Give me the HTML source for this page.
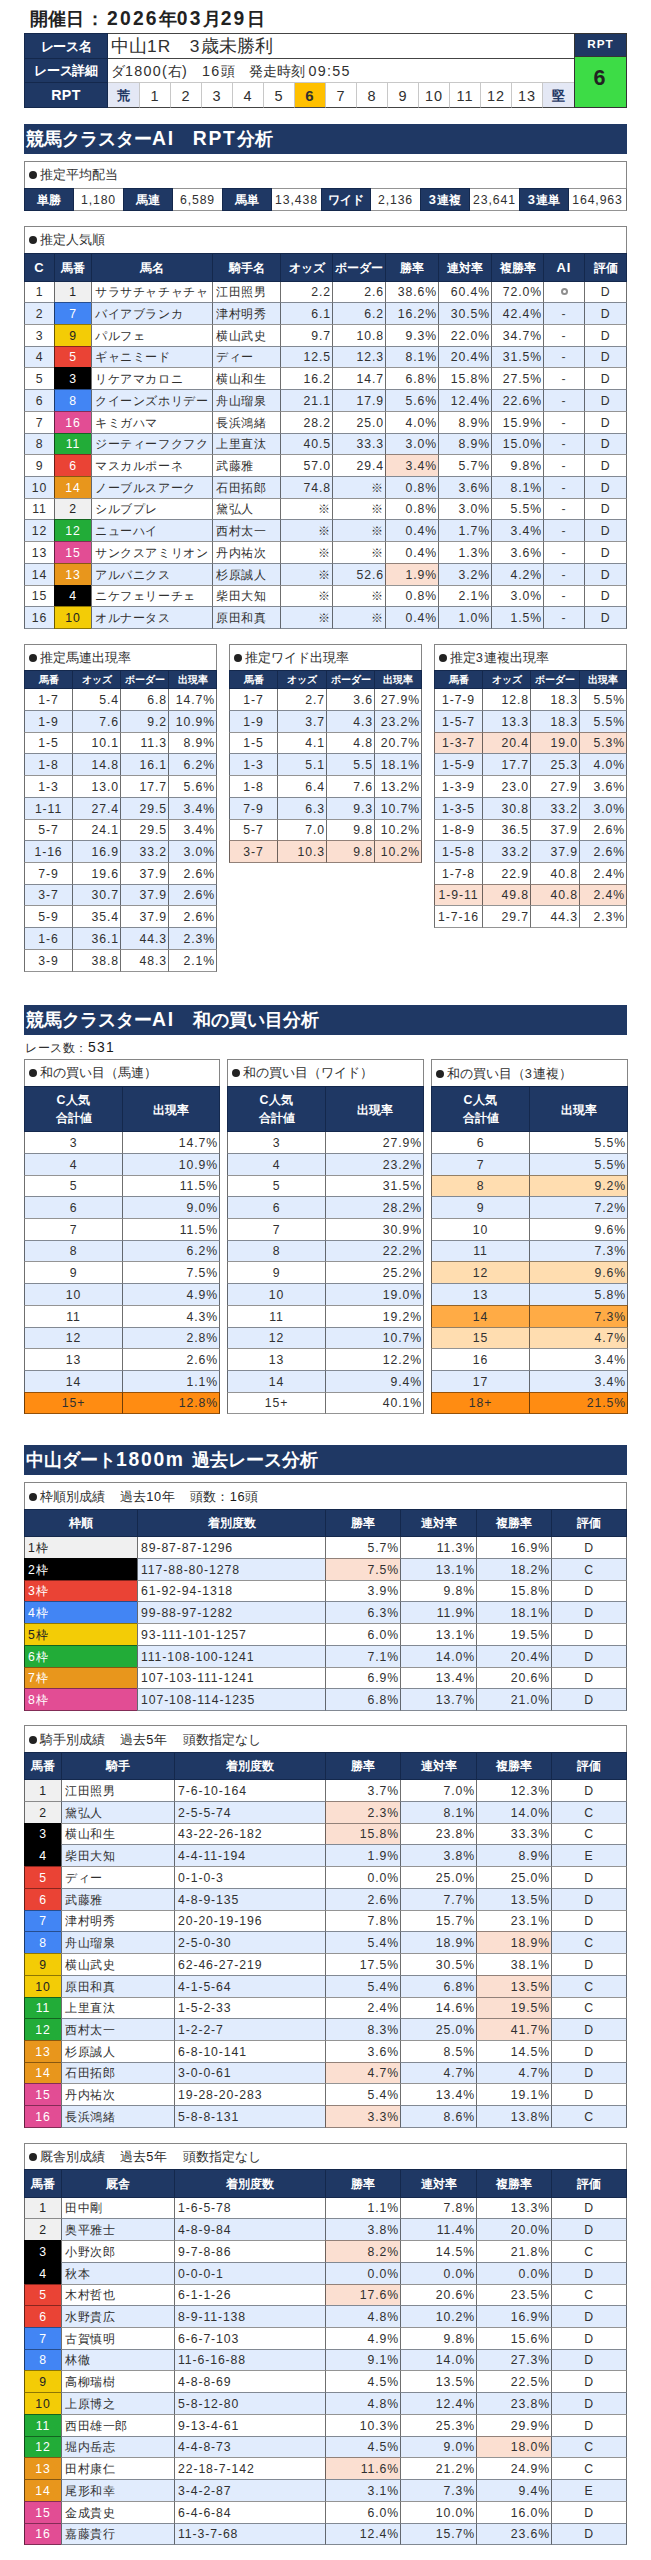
<!DOCTYPE html>
<html lang="ja"><head><meta charset="utf-8"><title>RPT</title><style>
html,body{margin:0;padding:0;background:#fff;}
body{width:651px;height:2560px;position:relative;overflow:hidden;font-family:"Liberation Sans",sans-serif;font-size:12.3px;color:#303030;}
.c{position:absolute;box-sizing:border-box;border:1px solid;border-color:rgba(0,0,0,.42) rgba(0,0,0,.56);white-space:nowrap;overflow:hidden;background:#fff;font-size:12.3px;letter-spacing:.6px;}
.r{position:absolute;white-space:nowrap;overflow:hidden;}
.n{font-size:12.25px;letter-spacing:.9px;}
.m{text-align:center;}
.l{text-align:left;padding-left:3px;}
.rr{text-align:right;padding-right:1px;}
.h{z-index:1;background:#1f3864;color:#fff;font-weight:bold;text-align:center;border-color:#14284c;font-size:12.2px;letter-spacing:0;}
.sm{font-size:10.4px;}
.sh{font-size:12.2px;}
.h1{font-size:11.6px;}
.h2{line-height:18px !important;padding-top:4px;font-size:11.6px;}
.rl{font-size:13.4px;letter-spacing:-.4px;}
.rl .n{letter-spacing:.03em !important;}
.rn{font-size:18px;padding-left:3px;border-color:#444;letter-spacing:0;}
.rd{font-size:13.9px;padding-left:3px;border-color:#444;letter-spacing:0;}
.rp{font-size:15px;border-color:#c8c8c8;border-bottom-color:#444;letter-spacing:0;}
.rn .n,.rp .n{font-size:.965em;letter-spacing:.07em;}
.rd .n{font-size:1.03em;letter-spacing:.09em;}
.rp.b .n{font-size:1em;}
.nv{color:#1f3864;font-weight:bold;font-size:13.4px;}
.b{font-weight:bold;}
.big{font-size:20.3px;font-weight:bold;color:#222;letter-spacing:0;}
.bh{padding-left:2px;font-size:12.7px;letter-spacing:0;border-color:#858585;}
.bh .n{font-size:12.8px;letter-spacing:.7px;}
.bh .dot{margin:0 2.6px 0 2.2px;}
.ai{color:#444;}
.sp{display:inline-block;width:15.5px;}
.ring{display:inline-block;width:3px;height:3px;border:2px solid #8e8e8e;border-radius:50%;vertical-align:middle;position:relative;top:-1px;}
.title{font-size:18.2px;font-weight:bold;color:#222;}
.sec{background:#1f3864;color:#fff;font-weight:bold;font-size:18.2px;padding-left:2px;box-sizing:border-box;}
.rc{font-size:12.3px;letter-spacing:.6px;}
.h .n,.sec .n,b .n,.b .n,.big .n{font-size:1.06em;letter-spacing:.09em;}
.title .n{font-size:1.06em;letter-spacing:.115em;}
b{font-weight:normal;}
b .n{font-size:13.9px;letter-spacing:1.3px;color:#1a1a1a;}
b{letter-spacing:.3px;}
.dot{display:inline-block;width:8px;height:8px;border-radius:50%;background:#222;margin:0 1.8px 0 2.1px;vertical-align:middle;position:relative;top:-1px;}
</style></head><body>
<div class="r title" style="left:30px;top:6px;width:370px;height:25px;line-height:25px;">開催日<i style="font-style:normal;margin:0 3px 0 2px">：</i><span class="n">2026</span>年<span class="n">03</span>月<span class="n">29</span>日</div>
<div class="c h rl" style="left:24px;top:33px;width:84px;height:26px;line-height:25px;">レース名</div>
<div class="c h rl" style="left:24px;top:58px;width:84px;height:25px;line-height:24px;">レース詳細</div>
<div class="c h rl" style="left:24px;top:82px;width:84px;height:26px;line-height:25px;"><span class="n">RPT</span></div>
<div class="c l rn" style="left:107px;top:33px;width:468px;height:26px;line-height:25px;">中山<span class="n">1R</span>　<span class="n">3</span>歳未勝利</div>
<div class="c l rd" style="left:107px;top:58px;width:468px;height:25px;line-height:24px;">ダ<span class="n">1800(</span>右<span class="n">)</span>　<span class="n">16</span>頭　発走時刻 <span class="n">09:55</span></div>
<div class="c m rp nv" style="left:107px;top:82px;width:33px;height:26px;line-height:25px;background:#e4e8f5;">荒</div>
<div class="c m rp" style="left:139px;top:82px;width:32px;height:26px;line-height:25px;"><span class="n">1</span></div>
<div class="c m rp" style="left:170px;top:82px;width:32px;height:26px;line-height:25px;"><span class="n">2</span></div>
<div class="c m rp" style="left:201px;top:82px;width:32px;height:26px;line-height:25px;"><span class="n">3</span></div>
<div class="c m rp" style="left:232px;top:82px;width:32px;height:26px;line-height:25px;"><span class="n">4</span></div>
<div class="c m rp" style="left:263px;top:82px;width:32px;height:26px;line-height:25px;"><span class="n">5</span></div>
<div class="c m rp b" style="left:294px;top:82px;width:32px;height:26px;line-height:25px;background:#ffc000;"><span class="n">6</span></div>
<div class="c m rp" style="left:325px;top:82px;width:32px;height:26px;line-height:25px;"><span class="n">7</span></div>
<div class="c m rp" style="left:356px;top:82px;width:32px;height:26px;line-height:25px;"><span class="n">8</span></div>
<div class="c m rp" style="left:387px;top:82px;width:32px;height:26px;line-height:25px;"><span class="n">9</span></div>
<div class="c m rp" style="left:418px;top:82px;width:32px;height:26px;line-height:25px;"><span class="n">10</span></div>
<div class="c m rp" style="left:449px;top:82px;width:32px;height:26px;line-height:25px;"><span class="n">11</span></div>
<div class="c m rp" style="left:480px;top:82px;width:32px;height:26px;line-height:25px;"><span class="n">12</span></div>
<div class="c m rp" style="left:511px;top:82px;width:32px;height:26px;line-height:25px;"><span class="n">13</span></div>
<div class="c m rp nv" style="left:542px;top:82px;width:33px;height:26px;line-height:25px;background:#e4e8f5;">堅</div>
<div class="c h" style="left:574px;top:33px;width:53px;height:24px;line-height:23px;border-color:#333;font-size:11.1px;line-height:19px;"><span class="n">RPT</span></div>
<div class="c m big" style="left:574px;top:56px;width:53px;height:52px;line-height:51px;background:#3ddc46;border-color:#333;line-height:42px;"><span class="n">6</span></div>
<div class="r sec" style="left:24px;top:124px;width:603px;height:30px;line-height:30px;">競馬クラスター<span class="n">AI</span>　<span class="n">RPT</span>分析</div>
<div class="r sec" style="left:24px;top:1005px;width:603px;height:30px;line-height:30px;">競馬クラスター<span class="n">AI</span>　和の買い目分析</div>
<div class="r sec" style="left:24px;top:1445px;width:603px;height:30px;line-height:30px;">中山ダート<span class="n">1800m </span>過去レース分析</div>
<div class="c bh" style="left:24px;top:161px;width:603px;height:28px;line-height:27px;"><i class="dot"></i>推定平均配当</div>
<div class="c h sh" style="left:24px;top:188px;width:50px;height:23px;line-height:22px;">単勝</div>
<div class="c m" style="left:73px;top:188px;width:51px;height:23px;line-height:22px;"><span class="n">1,180</span></div>
<div class="c h sh" style="left:123px;top:188px;width:50px;height:23px;line-height:22px;">馬連</div>
<div class="c m" style="left:172px;top:188px;width:51px;height:23px;line-height:22px;"><span class="n">6,589</span></div>
<div class="c h sh" style="left:222px;top:188px;width:50px;height:23px;line-height:22px;">馬単</div>
<div class="c m" style="left:271px;top:188px;width:51px;height:23px;line-height:22px;"><span class="n">13,438</span></div>
<div class="c h sh" style="left:321px;top:188px;width:50px;height:23px;line-height:22px;">ワイド</div>
<div class="c m" style="left:370px;top:188px;width:51px;height:23px;line-height:22px;"><span class="n">2,136</span></div>
<div class="c h sh" style="left:420px;top:188px;width:50px;height:23px;line-height:22px;"><span class="n">3</span>連複</div>
<div class="c m" style="left:469px;top:188px;width:51px;height:23px;line-height:22px;"><span class="n">23,641</span></div>
<div class="c h sh" style="left:519px;top:188px;width:50px;height:23px;line-height:22px;"><span class="n">3</span>連単</div>
<div class="c m" style="left:568px;top:188px;width:59px;height:23px;line-height:22px;"><span class="n">164,963</span></div>
<div class="c bh" style="left:24px;top:226px;width:603px;height:28px;line-height:27px;"><i class="dot"></i>推定人気順</div>
<div class="c h" style="left:24px;top:253px;width:31px;height:29px;line-height:28px;"><span class="n">C</span></div>
<div class="c h" style="left:54px;top:253px;width:38px;height:29px;line-height:28px;">馬番</div>
<div class="c h" style="left:91px;top:253px;width:122px;height:29px;line-height:28px;">馬名</div>
<div class="c h" style="left:212px;top:253px;width:69px;height:29px;line-height:28px;">騎手名</div>
<div class="c h" style="left:280px;top:253px;width:53px;height:29px;line-height:28px;">オッズ</div>
<div class="c h" style="left:332px;top:253px;width:54px;height:29px;line-height:28px;">ボーダー</div>
<div class="c h" style="left:385px;top:253px;width:54px;height:29px;line-height:28px;">勝率</div>
<div class="c h" style="left:438px;top:253px;width:54px;height:29px;line-height:28px;">連対率</div>
<div class="c h" style="left:491px;top:253px;width:53px;height:29px;line-height:28px;">複勝率</div>
<div class="c h" style="left:543px;top:253px;width:42px;height:29px;line-height:28px;"><span class="n">AI</span></div>
<div class="c h" style="left:584px;top:253px;width:43px;height:29px;line-height:28px;">評価</div>
<div class="c m" style="left:24px;top:281px;width:31px;height:22px;line-height:21px;background:#fff;"><span class="n">1</span></div>
<div class="c m" style="left:54px;top:281px;width:38px;height:22px;line-height:21px;background:#f0f0f0;color:#222;"><span class="n">1</span></div>
<div class="c l" style="left:91px;top:281px;width:122px;height:22px;line-height:21px;background:#fff;">サラサチャチャチャ</div>
<div class="c l" style="left:212px;top:281px;width:69px;height:22px;line-height:21px;background:#fff;">江田照男</div>
<div class="c rr" style="left:280px;top:281px;width:53px;height:22px;line-height:21px;background:#fff;"><span class="n">2.2</span></div>
<div class="c rr" style="left:332px;top:281px;width:54px;height:22px;line-height:21px;background:#fff;"><span class="n">2.6</span></div>
<div class="c rr" style="left:385px;top:281px;width:54px;height:22px;line-height:21px;background:#fff;"><span class="n">38.6%</span></div>
<div class="c rr" style="left:438px;top:281px;width:54px;height:22px;line-height:21px;background:#fff;"><span class="n">60.4%</span></div>
<div class="c rr" style="left:491px;top:281px;width:53px;height:22px;line-height:21px;background:#fff;"><span class="n">72.0%</span></div>
<div class="c m ai" style="left:543px;top:281px;width:42px;height:22px;line-height:21px;background:#fff;"><i class="ring"></i></div>
<div class="c m" style="left:584px;top:281px;width:43px;height:22px;line-height:21px;background:#fff;"><span class="n">D</span></div>
<div class="c m" style="left:24px;top:302px;width:31px;height:23px;line-height:22px;background:#e1ecfd;"><span class="n">2</span></div>
<div class="c m" style="left:54px;top:302px;width:38px;height:23px;line-height:22px;background:#4285f4;color:#fff;"><span class="n">7</span></div>
<div class="c l" style="left:91px;top:302px;width:122px;height:23px;line-height:22px;background:#e1ecfd;">バイアブランカ</div>
<div class="c l" style="left:212px;top:302px;width:69px;height:23px;line-height:22px;background:#e1ecfd;">津村明秀</div>
<div class="c rr" style="left:280px;top:302px;width:53px;height:23px;line-height:22px;background:#e1ecfd;"><span class="n">6.1</span></div>
<div class="c rr" style="left:332px;top:302px;width:54px;height:23px;line-height:22px;background:#e1ecfd;"><span class="n">6.2</span></div>
<div class="c rr" style="left:385px;top:302px;width:54px;height:23px;line-height:22px;background:#e1ecfd;"><span class="n">16.2%</span></div>
<div class="c rr" style="left:438px;top:302px;width:54px;height:23px;line-height:22px;background:#e1ecfd;"><span class="n">30.5%</span></div>
<div class="c rr" style="left:491px;top:302px;width:53px;height:23px;line-height:22px;background:#e1ecfd;"><span class="n">42.4%</span></div>
<div class="c m ai" style="left:543px;top:302px;width:42px;height:23px;line-height:22px;background:#e1ecfd;"><span class="n">-</span></div>
<div class="c m" style="left:584px;top:302px;width:43px;height:23px;line-height:22px;background:#e1ecfd;"><span class="n">D</span></div>
<div class="c m" style="left:24px;top:324px;width:31px;height:23px;line-height:22px;background:#fff;"><span class="n">3</span></div>
<div class="c m" style="left:54px;top:324px;width:38px;height:23px;line-height:22px;background:#f3cc06;color:#222;"><span class="n">9</span></div>
<div class="c l" style="left:91px;top:324px;width:122px;height:23px;line-height:22px;background:#fff;">パルフェ</div>
<div class="c l" style="left:212px;top:324px;width:69px;height:23px;line-height:22px;background:#fff;">横山武史</div>
<div class="c rr" style="left:280px;top:324px;width:53px;height:23px;line-height:22px;background:#fff;"><span class="n">9.7</span></div>
<div class="c rr" style="left:332px;top:324px;width:54px;height:23px;line-height:22px;background:#fff;"><span class="n">10.8</span></div>
<div class="c rr" style="left:385px;top:324px;width:54px;height:23px;line-height:22px;background:#fff;"><span class="n">9.3%</span></div>
<div class="c rr" style="left:438px;top:324px;width:54px;height:23px;line-height:22px;background:#fff;"><span class="n">22.0%</span></div>
<div class="c rr" style="left:491px;top:324px;width:53px;height:23px;line-height:22px;background:#fff;"><span class="n">34.7%</span></div>
<div class="c m ai" style="left:543px;top:324px;width:42px;height:23px;line-height:22px;background:#fff;"><span class="n">-</span></div>
<div class="c m" style="left:584px;top:324px;width:43px;height:23px;line-height:22px;background:#fff;"><span class="n">D</span></div>
<div class="c m" style="left:24px;top:346px;width:31px;height:22px;line-height:21px;background:#e1ecfd;"><span class="n">4</span></div>
<div class="c m" style="left:54px;top:346px;width:38px;height:22px;line-height:21px;background:#ea4335;color:#fff;"><span class="n">5</span></div>
<div class="c l" style="left:91px;top:346px;width:122px;height:22px;line-height:21px;background:#e1ecfd;">ギャニミード</div>
<div class="c l" style="left:212px;top:346px;width:69px;height:22px;line-height:21px;background:#e1ecfd;">ディー</div>
<div class="c rr" style="left:280px;top:346px;width:53px;height:22px;line-height:21px;background:#e1ecfd;"><span class="n">12.5</span></div>
<div class="c rr" style="left:332px;top:346px;width:54px;height:22px;line-height:21px;background:#e1ecfd;"><span class="n">12.3</span></div>
<div class="c rr" style="left:385px;top:346px;width:54px;height:22px;line-height:21px;background:#e1ecfd;"><span class="n">8.1%</span></div>
<div class="c rr" style="left:438px;top:346px;width:54px;height:22px;line-height:21px;background:#e1ecfd;"><span class="n">20.4%</span></div>
<div class="c rr" style="left:491px;top:346px;width:53px;height:22px;line-height:21px;background:#e1ecfd;"><span class="n">31.5%</span></div>
<div class="c m ai" style="left:543px;top:346px;width:42px;height:22px;line-height:21px;background:#e1ecfd;"><span class="n">-</span></div>
<div class="c m" style="left:584px;top:346px;width:43px;height:22px;line-height:21px;background:#e1ecfd;"><span class="n">D</span></div>
<div class="c m" style="left:24px;top:367px;width:31px;height:23px;line-height:22px;background:#fff;"><span class="n">5</span></div>
<div class="c m" style="left:54px;top:367px;width:38px;height:23px;line-height:22px;background:#000;color:#fff;"><span class="n">3</span></div>
<div class="c l" style="left:91px;top:367px;width:122px;height:23px;line-height:22px;background:#fff;">リケアマカロニ</div>
<div class="c l" style="left:212px;top:367px;width:69px;height:23px;line-height:22px;background:#fff;">横山和生</div>
<div class="c rr" style="left:280px;top:367px;width:53px;height:23px;line-height:22px;background:#fff;"><span class="n">16.2</span></div>
<div class="c rr" style="left:332px;top:367px;width:54px;height:23px;line-height:22px;background:#fff;"><span class="n">14.7</span></div>
<div class="c rr" style="left:385px;top:367px;width:54px;height:23px;line-height:22px;background:#fff;"><span class="n">6.8%</span></div>
<div class="c rr" style="left:438px;top:367px;width:54px;height:23px;line-height:22px;background:#fff;"><span class="n">15.8%</span></div>
<div class="c rr" style="left:491px;top:367px;width:53px;height:23px;line-height:22px;background:#fff;"><span class="n">27.5%</span></div>
<div class="c m ai" style="left:543px;top:367px;width:42px;height:23px;line-height:22px;background:#fff;"><span class="n">-</span></div>
<div class="c m" style="left:584px;top:367px;width:43px;height:23px;line-height:22px;background:#fff;"><span class="n">D</span></div>
<div class="c m" style="left:24px;top:389px;width:31px;height:23px;line-height:22px;background:#e1ecfd;"><span class="n">6</span></div>
<div class="c m" style="left:54px;top:389px;width:38px;height:23px;line-height:22px;background:#4285f4;color:#fff;"><span class="n">8</span></div>
<div class="c l" style="left:91px;top:389px;width:122px;height:23px;line-height:22px;background:#e1ecfd;">クイーンズホリデー</div>
<div class="c l" style="left:212px;top:389px;width:69px;height:23px;line-height:22px;background:#e1ecfd;">舟山瑠泉</div>
<div class="c rr" style="left:280px;top:389px;width:53px;height:23px;line-height:22px;background:#e1ecfd;"><span class="n">21.1</span></div>
<div class="c rr" style="left:332px;top:389px;width:54px;height:23px;line-height:22px;background:#e1ecfd;"><span class="n">17.9</span></div>
<div class="c rr" style="left:385px;top:389px;width:54px;height:23px;line-height:22px;background:#e1ecfd;"><span class="n">5.6%</span></div>
<div class="c rr" style="left:438px;top:389px;width:54px;height:23px;line-height:22px;background:#e1ecfd;"><span class="n">12.4%</span></div>
<div class="c rr" style="left:491px;top:389px;width:53px;height:23px;line-height:22px;background:#e1ecfd;"><span class="n">22.6%</span></div>
<div class="c m ai" style="left:543px;top:389px;width:42px;height:23px;line-height:22px;background:#e1ecfd;"><span class="n">-</span></div>
<div class="c m" style="left:584px;top:389px;width:43px;height:23px;line-height:22px;background:#e1ecfd;"><span class="n">D</span></div>
<div class="c m" style="left:24px;top:411px;width:31px;height:23px;line-height:22px;background:#fff;"><span class="n">7</span></div>
<div class="c m" style="left:54px;top:411px;width:38px;height:23px;line-height:22px;background:#e24d94;color:#fff;"><span class="n">16</span></div>
<div class="c l" style="left:91px;top:411px;width:122px;height:23px;line-height:22px;background:#fff;">キミガハマ</div>
<div class="c l" style="left:212px;top:411px;width:69px;height:23px;line-height:22px;background:#fff;">長浜鴻緒</div>
<div class="c rr" style="left:280px;top:411px;width:53px;height:23px;line-height:22px;background:#fff;"><span class="n">28.2</span></div>
<div class="c rr" style="left:332px;top:411px;width:54px;height:23px;line-height:22px;background:#fff;"><span class="n">25.0</span></div>
<div class="c rr" style="left:385px;top:411px;width:54px;height:23px;line-height:22px;background:#fff;"><span class="n">4.0%</span></div>
<div class="c rr" style="left:438px;top:411px;width:54px;height:23px;line-height:22px;background:#fff;"><span class="n">8.9%</span></div>
<div class="c rr" style="left:491px;top:411px;width:53px;height:23px;line-height:22px;background:#fff;"><span class="n">15.9%</span></div>
<div class="c m ai" style="left:543px;top:411px;width:42px;height:23px;line-height:22px;background:#fff;"><span class="n">-</span></div>
<div class="c m" style="left:584px;top:411px;width:43px;height:23px;line-height:22px;background:#fff;"><span class="n">D</span></div>
<div class="c m" style="left:24px;top:433px;width:31px;height:22px;line-height:21px;background:#e1ecfd;"><span class="n">8</span></div>
<div class="c m" style="left:54px;top:433px;width:38px;height:22px;line-height:21px;background:#22ac38;color:#fff;"><span class="n">11</span></div>
<div class="c l" style="left:91px;top:433px;width:122px;height:22px;line-height:21px;background:#e1ecfd;">ジーティーフクフク</div>
<div class="c l" style="left:212px;top:433px;width:69px;height:22px;line-height:21px;background:#e1ecfd;">上里直汰</div>
<div class="c rr" style="left:280px;top:433px;width:53px;height:22px;line-height:21px;background:#e1ecfd;"><span class="n">40.5</span></div>
<div class="c rr" style="left:332px;top:433px;width:54px;height:22px;line-height:21px;background:#e1ecfd;"><span class="n">33.3</span></div>
<div class="c rr" style="left:385px;top:433px;width:54px;height:22px;line-height:21px;background:#e1ecfd;"><span class="n">3.0%</span></div>
<div class="c rr" style="left:438px;top:433px;width:54px;height:22px;line-height:21px;background:#e1ecfd;"><span class="n">8.9%</span></div>
<div class="c rr" style="left:491px;top:433px;width:53px;height:22px;line-height:21px;background:#e1ecfd;"><span class="n">15.0%</span></div>
<div class="c m ai" style="left:543px;top:433px;width:42px;height:22px;line-height:21px;background:#e1ecfd;"><span class="n">-</span></div>
<div class="c m" style="left:584px;top:433px;width:43px;height:22px;line-height:21px;background:#e1ecfd;"><span class="n">D</span></div>
<div class="c m" style="left:24px;top:454px;width:31px;height:23px;line-height:22px;background:#fff;"><span class="n">9</span></div>
<div class="c m" style="left:54px;top:454px;width:38px;height:23px;line-height:22px;background:#ea4335;color:#fff;"><span class="n">6</span></div>
<div class="c l" style="left:91px;top:454px;width:122px;height:23px;line-height:22px;background:#fff;">マスカルポーネ</div>
<div class="c l" style="left:212px;top:454px;width:69px;height:23px;line-height:22px;background:#fff;">武藤雅</div>
<div class="c rr" style="left:280px;top:454px;width:53px;height:23px;line-height:22px;background:#fff;"><span class="n">57.0</span></div>
<div class="c rr" style="left:332px;top:454px;width:54px;height:23px;line-height:22px;background:#fff;"><span class="n">29.4</span></div>
<div class="c rr" style="left:385px;top:454px;width:54px;height:23px;line-height:22px;background:#fbdfd1;"><span class="n">3.4%</span></div>
<div class="c rr" style="left:438px;top:454px;width:54px;height:23px;line-height:22px;background:#fff;"><span class="n">5.7%</span></div>
<div class="c rr" style="left:491px;top:454px;width:53px;height:23px;line-height:22px;background:#fff;"><span class="n">9.8%</span></div>
<div class="c m ai" style="left:543px;top:454px;width:42px;height:23px;line-height:22px;background:#fff;"><span class="n">-</span></div>
<div class="c m" style="left:584px;top:454px;width:43px;height:23px;line-height:22px;background:#fff;"><span class="n">D</span></div>
<div class="c m" style="left:24px;top:476px;width:31px;height:23px;line-height:22px;background:#e1ecfd;"><span class="n">10</span></div>
<div class="c m" style="left:54px;top:476px;width:38px;height:23px;line-height:22px;background:#e8961c;color:#fff;"><span class="n">14</span></div>
<div class="c l" style="left:91px;top:476px;width:122px;height:23px;line-height:22px;background:#e1ecfd;">ノーブルスアーク</div>
<div class="c l" style="left:212px;top:476px;width:69px;height:23px;line-height:22px;background:#e1ecfd;">石田拓郎</div>
<div class="c rr" style="left:280px;top:476px;width:53px;height:23px;line-height:22px;background:#e1ecfd;"><span class="n">74.8</span></div>
<div class="c rr" style="left:332px;top:476px;width:54px;height:23px;line-height:22px;background:#e1ecfd;">※</div>
<div class="c rr" style="left:385px;top:476px;width:54px;height:23px;line-height:22px;background:#e1ecfd;"><span class="n">0.8%</span></div>
<div class="c rr" style="left:438px;top:476px;width:54px;height:23px;line-height:22px;background:#e1ecfd;"><span class="n">3.6%</span></div>
<div class="c rr" style="left:491px;top:476px;width:53px;height:23px;line-height:22px;background:#e1ecfd;"><span class="n">8.1%</span></div>
<div class="c m ai" style="left:543px;top:476px;width:42px;height:23px;line-height:22px;background:#e1ecfd;"><span class="n">-</span></div>
<div class="c m" style="left:584px;top:476px;width:43px;height:23px;line-height:22px;background:#e1ecfd;"><span class="n">D</span></div>
<div class="c m" style="left:24px;top:498px;width:31px;height:22px;line-height:21px;background:#fff;"><span class="n">11</span></div>
<div class="c m" style="left:54px;top:498px;width:38px;height:22px;line-height:21px;background:#f0f0f0;color:#222;"><span class="n">2</span></div>
<div class="c l" style="left:91px;top:498px;width:122px;height:22px;line-height:21px;background:#fff;">シルブプレ</div>
<div class="c l" style="left:212px;top:498px;width:69px;height:22px;line-height:21px;background:#fff;">黛弘人</div>
<div class="c rr" style="left:280px;top:498px;width:53px;height:22px;line-height:21px;background:#fff;">※</div>
<div class="c rr" style="left:332px;top:498px;width:54px;height:22px;line-height:21px;background:#fff;">※</div>
<div class="c rr" style="left:385px;top:498px;width:54px;height:22px;line-height:21px;background:#fff;"><span class="n">0.8%</span></div>
<div class="c rr" style="left:438px;top:498px;width:54px;height:22px;line-height:21px;background:#fff;"><span class="n">3.0%</span></div>
<div class="c rr" style="left:491px;top:498px;width:53px;height:22px;line-height:21px;background:#fff;"><span class="n">5.5%</span></div>
<div class="c m ai" style="left:543px;top:498px;width:42px;height:22px;line-height:21px;background:#fff;"><span class="n">-</span></div>
<div class="c m" style="left:584px;top:498px;width:43px;height:22px;line-height:21px;background:#fff;"><span class="n">D</span></div>
<div class="c m" style="left:24px;top:519px;width:31px;height:23px;line-height:22px;background:#e1ecfd;"><span class="n">12</span></div>
<div class="c m" style="left:54px;top:519px;width:38px;height:23px;line-height:22px;background:#22ac38;color:#fff;"><span class="n">12</span></div>
<div class="c l" style="left:91px;top:519px;width:122px;height:23px;line-height:22px;background:#e1ecfd;">ニューハイ</div>
<div class="c l" style="left:212px;top:519px;width:69px;height:23px;line-height:22px;background:#e1ecfd;">西村太一</div>
<div class="c rr" style="left:280px;top:519px;width:53px;height:23px;line-height:22px;background:#e1ecfd;">※</div>
<div class="c rr" style="left:332px;top:519px;width:54px;height:23px;line-height:22px;background:#e1ecfd;">※</div>
<div class="c rr" style="left:385px;top:519px;width:54px;height:23px;line-height:22px;background:#e1ecfd;"><span class="n">0.4%</span></div>
<div class="c rr" style="left:438px;top:519px;width:54px;height:23px;line-height:22px;background:#e1ecfd;"><span class="n">1.7%</span></div>
<div class="c rr" style="left:491px;top:519px;width:53px;height:23px;line-height:22px;background:#e1ecfd;"><span class="n">3.4%</span></div>
<div class="c m ai" style="left:543px;top:519px;width:42px;height:23px;line-height:22px;background:#e1ecfd;"><span class="n">-</span></div>
<div class="c m" style="left:584px;top:519px;width:43px;height:23px;line-height:22px;background:#e1ecfd;"><span class="n">D</span></div>
<div class="c m" style="left:24px;top:541px;width:31px;height:23px;line-height:22px;background:#fff;"><span class="n">13</span></div>
<div class="c m" style="left:54px;top:541px;width:38px;height:23px;line-height:22px;background:#e24d94;color:#fff;"><span class="n">15</span></div>
<div class="c l" style="left:91px;top:541px;width:122px;height:23px;line-height:22px;background:#fff;">サンクスアミリオン</div>
<div class="c l" style="left:212px;top:541px;width:69px;height:23px;line-height:22px;background:#fff;">丹内祐次</div>
<div class="c rr" style="left:280px;top:541px;width:53px;height:23px;line-height:22px;background:#fff;">※</div>
<div class="c rr" style="left:332px;top:541px;width:54px;height:23px;line-height:22px;background:#fff;">※</div>
<div class="c rr" style="left:385px;top:541px;width:54px;height:23px;line-height:22px;background:#fff;"><span class="n">0.4%</span></div>
<div class="c rr" style="left:438px;top:541px;width:54px;height:23px;line-height:22px;background:#fff;"><span class="n">1.3%</span></div>
<div class="c rr" style="left:491px;top:541px;width:53px;height:23px;line-height:22px;background:#fff;"><span class="n">3.6%</span></div>
<div class="c m ai" style="left:543px;top:541px;width:42px;height:23px;line-height:22px;background:#fff;"><span class="n">-</span></div>
<div class="c m" style="left:584px;top:541px;width:43px;height:23px;line-height:22px;background:#fff;"><span class="n">D</span></div>
<div class="c m" style="left:24px;top:563px;width:31px;height:23px;line-height:22px;background:#e1ecfd;"><span class="n">14</span></div>
<div class="c m" style="left:54px;top:563px;width:38px;height:23px;line-height:22px;background:#e8961c;color:#fff;"><span class="n">13</span></div>
<div class="c l" style="left:91px;top:563px;width:122px;height:23px;line-height:22px;background:#e1ecfd;">アルバニクス</div>
<div class="c l" style="left:212px;top:563px;width:69px;height:23px;line-height:22px;background:#e1ecfd;">杉原誠人</div>
<div class="c rr" style="left:280px;top:563px;width:53px;height:23px;line-height:22px;background:#e1ecfd;">※</div>
<div class="c rr" style="left:332px;top:563px;width:54px;height:23px;line-height:22px;background:#e1ecfd;"><span class="n">52.6</span></div>
<div class="c rr" style="left:385px;top:563px;width:54px;height:23px;line-height:22px;background:#fbdfd1;"><span class="n">1.9%</span></div>
<div class="c rr" style="left:438px;top:563px;width:54px;height:23px;line-height:22px;background:#e1ecfd;"><span class="n">3.2%</span></div>
<div class="c rr" style="left:491px;top:563px;width:53px;height:23px;line-height:22px;background:#e1ecfd;"><span class="n">4.2%</span></div>
<div class="c m ai" style="left:543px;top:563px;width:42px;height:23px;line-height:22px;background:#e1ecfd;"><span class="n">-</span></div>
<div class="c m" style="left:584px;top:563px;width:43px;height:23px;line-height:22px;background:#e1ecfd;"><span class="n">D</span></div>
<div class="c m" style="left:24px;top:585px;width:31px;height:22px;line-height:21px;background:#fff;"><span class="n">15</span></div>
<div class="c m" style="left:54px;top:585px;width:38px;height:22px;line-height:21px;background:#000;color:#fff;"><span class="n">4</span></div>
<div class="c l" style="left:91px;top:585px;width:122px;height:22px;line-height:21px;background:#fff;">ニケフェリーチェ</div>
<div class="c l" style="left:212px;top:585px;width:69px;height:22px;line-height:21px;background:#fff;">柴田大知</div>
<div class="c rr" style="left:280px;top:585px;width:53px;height:22px;line-height:21px;background:#fff;">※</div>
<div class="c rr" style="left:332px;top:585px;width:54px;height:22px;line-height:21px;background:#fff;">※</div>
<div class="c rr" style="left:385px;top:585px;width:54px;height:22px;line-height:21px;background:#fff;"><span class="n">0.8%</span></div>
<div class="c rr" style="left:438px;top:585px;width:54px;height:22px;line-height:21px;background:#fff;"><span class="n">2.1%</span></div>
<div class="c rr" style="left:491px;top:585px;width:53px;height:22px;line-height:21px;background:#fff;"><span class="n">3.0%</span></div>
<div class="c m ai" style="left:543px;top:585px;width:42px;height:22px;line-height:21px;background:#fff;"><span class="n">-</span></div>
<div class="c m" style="left:584px;top:585px;width:43px;height:22px;line-height:21px;background:#fff;"><span class="n">D</span></div>
<div class="c m" style="left:24px;top:606px;width:31px;height:23px;line-height:22px;background:#e1ecfd;"><span class="n">16</span></div>
<div class="c m" style="left:54px;top:606px;width:38px;height:23px;line-height:22px;background:#f3cc06;color:#222;"><span class="n">10</span></div>
<div class="c l" style="left:91px;top:606px;width:122px;height:23px;line-height:22px;background:#e1ecfd;">オルナータス</div>
<div class="c l" style="left:212px;top:606px;width:69px;height:23px;line-height:22px;background:#e1ecfd;">原田和真</div>
<div class="c rr" style="left:280px;top:606px;width:53px;height:23px;line-height:22px;background:#e1ecfd;">※</div>
<div class="c rr" style="left:332px;top:606px;width:54px;height:23px;line-height:22px;background:#e1ecfd;">※</div>
<div class="c rr" style="left:385px;top:606px;width:54px;height:23px;line-height:22px;background:#e1ecfd;"><span class="n">0.4%</span></div>
<div class="c rr" style="left:438px;top:606px;width:54px;height:23px;line-height:22px;background:#e1ecfd;"><span class="n">1.0%</span></div>
<div class="c rr" style="left:491px;top:606px;width:53px;height:23px;line-height:22px;background:#e1ecfd;"><span class="n">1.5%</span></div>
<div class="c m ai" style="left:543px;top:606px;width:42px;height:23px;line-height:22px;background:#e1ecfd;"><span class="n">-</span></div>
<div class="c m" style="left:584px;top:606px;width:43px;height:23px;line-height:22px;background:#e1ecfd;"><span class="n">D</span></div>
<div class="c bh" style="left:24px;top:644px;width:193px;height:27px;line-height:26px;"><i class="dot"></i>推定馬連出現率</div>
<div class="c h sm" style="left:24px;top:670px;width:49px;height:19px;line-height:18px;">馬番</div>
<div class="c h sm" style="left:72px;top:670px;width:49px;height:19px;line-height:18px;">オッズ</div>
<div class="c h sm" style="left:120px;top:670px;width:49px;height:19px;line-height:18px;">ボーダー</div>
<div class="c h sm" style="left:168px;top:670px;width:49px;height:19px;line-height:18px;">出現率</div>
<div class="c m" style="left:24px;top:688px;width:49px;height:23px;line-height:22px;background:#fff;"><span class="n">1-7</span></div>
<div class="c rr" style="left:72px;top:688px;width:49px;height:23px;line-height:22px;background:#fff;"><span class="n">5.4</span></div>
<div class="c rr" style="left:120px;top:688px;width:49px;height:23px;line-height:22px;background:#fff;"><span class="n">6.8</span></div>
<div class="c rr" style="left:168px;top:688px;width:49px;height:23px;line-height:22px;background:#fff;"><span class="n">14.7%</span></div>
<div class="c m" style="left:24px;top:710px;width:49px;height:23px;line-height:22px;background:#e1ecfd;"><span class="n">1-9</span></div>
<div class="c rr" style="left:72px;top:710px;width:49px;height:23px;line-height:22px;background:#e1ecfd;"><span class="n">7.6</span></div>
<div class="c rr" style="left:120px;top:710px;width:49px;height:23px;line-height:22px;background:#e1ecfd;"><span class="n">9.2</span></div>
<div class="c rr" style="left:168px;top:710px;width:49px;height:23px;line-height:22px;background:#e1ecfd;"><span class="n">10.9%</span></div>
<div class="c m" style="left:24px;top:732px;width:49px;height:22px;line-height:21px;background:#fff;"><span class="n">1-5</span></div>
<div class="c rr" style="left:72px;top:732px;width:49px;height:22px;line-height:21px;background:#fff;"><span class="n">10.1</span></div>
<div class="c rr" style="left:120px;top:732px;width:49px;height:22px;line-height:21px;background:#fff;"><span class="n">11.3</span></div>
<div class="c rr" style="left:168px;top:732px;width:49px;height:22px;line-height:21px;background:#fff;"><span class="n">8.9%</span></div>
<div class="c m" style="left:24px;top:753px;width:49px;height:23px;line-height:22px;background:#e1ecfd;"><span class="n">1-8</span></div>
<div class="c rr" style="left:72px;top:753px;width:49px;height:23px;line-height:22px;background:#e1ecfd;"><span class="n">14.8</span></div>
<div class="c rr" style="left:120px;top:753px;width:49px;height:23px;line-height:22px;background:#e1ecfd;"><span class="n">16.1</span></div>
<div class="c rr" style="left:168px;top:753px;width:49px;height:23px;line-height:22px;background:#e1ecfd;"><span class="n">6.2%</span></div>
<div class="c m" style="left:24px;top:775px;width:49px;height:23px;line-height:22px;background:#fff;"><span class="n">1-3</span></div>
<div class="c rr" style="left:72px;top:775px;width:49px;height:23px;line-height:22px;background:#fff;"><span class="n">13.0</span></div>
<div class="c rr" style="left:120px;top:775px;width:49px;height:23px;line-height:22px;background:#fff;"><span class="n">17.7</span></div>
<div class="c rr" style="left:168px;top:775px;width:49px;height:23px;line-height:22px;background:#fff;"><span class="n">5.6%</span></div>
<div class="c m" style="left:24px;top:797px;width:49px;height:23px;line-height:22px;background:#e1ecfd;"><span class="n">1-11</span></div>
<div class="c rr" style="left:72px;top:797px;width:49px;height:23px;line-height:22px;background:#e1ecfd;"><span class="n">27.4</span></div>
<div class="c rr" style="left:120px;top:797px;width:49px;height:23px;line-height:22px;background:#e1ecfd;"><span class="n">29.5</span></div>
<div class="c rr" style="left:168px;top:797px;width:49px;height:23px;line-height:22px;background:#e1ecfd;"><span class="n">3.4%</span></div>
<div class="c m" style="left:24px;top:819px;width:49px;height:22px;line-height:21px;background:#fff;"><span class="n">5-7</span></div>
<div class="c rr" style="left:72px;top:819px;width:49px;height:22px;line-height:21px;background:#fff;"><span class="n">24.1</span></div>
<div class="c rr" style="left:120px;top:819px;width:49px;height:22px;line-height:21px;background:#fff;"><span class="n">29.5</span></div>
<div class="c rr" style="left:168px;top:819px;width:49px;height:22px;line-height:21px;background:#fff;"><span class="n">3.4%</span></div>
<div class="c m" style="left:24px;top:840px;width:49px;height:23px;line-height:22px;background:#e1ecfd;"><span class="n">1-16</span></div>
<div class="c rr" style="left:72px;top:840px;width:49px;height:23px;line-height:22px;background:#e1ecfd;"><span class="n">16.9</span></div>
<div class="c rr" style="left:120px;top:840px;width:49px;height:23px;line-height:22px;background:#e1ecfd;"><span class="n">33.2</span></div>
<div class="c rr" style="left:168px;top:840px;width:49px;height:23px;line-height:22px;background:#e1ecfd;"><span class="n">3.0%</span></div>
<div class="c m" style="left:24px;top:862px;width:49px;height:23px;line-height:22px;background:#fff;"><span class="n">7-9</span></div>
<div class="c rr" style="left:72px;top:862px;width:49px;height:23px;line-height:22px;background:#fff;"><span class="n">19.6</span></div>
<div class="c rr" style="left:120px;top:862px;width:49px;height:23px;line-height:22px;background:#fff;"><span class="n">37.9</span></div>
<div class="c rr" style="left:168px;top:862px;width:49px;height:23px;line-height:22px;background:#fff;"><span class="n">2.6%</span></div>
<div class="c m" style="left:24px;top:884px;width:49px;height:22px;line-height:21px;background:#e1ecfd;"><span class="n">3-7</span></div>
<div class="c rr" style="left:72px;top:884px;width:49px;height:22px;line-height:21px;background:#e1ecfd;"><span class="n">30.7</span></div>
<div class="c rr" style="left:120px;top:884px;width:49px;height:22px;line-height:21px;background:#e1ecfd;"><span class="n">37.9</span></div>
<div class="c rr" style="left:168px;top:884px;width:49px;height:22px;line-height:21px;background:#e1ecfd;"><span class="n">2.6%</span></div>
<div class="c m" style="left:24px;top:905px;width:49px;height:23px;line-height:22px;background:#fff;"><span class="n">5-9</span></div>
<div class="c rr" style="left:72px;top:905px;width:49px;height:23px;line-height:22px;background:#fff;"><span class="n">35.4</span></div>
<div class="c rr" style="left:120px;top:905px;width:49px;height:23px;line-height:22px;background:#fff;"><span class="n">37.9</span></div>
<div class="c rr" style="left:168px;top:905px;width:49px;height:23px;line-height:22px;background:#fff;"><span class="n">2.6%</span></div>
<div class="c m" style="left:24px;top:927px;width:49px;height:23px;line-height:22px;background:#e1ecfd;"><span class="n">1-6</span></div>
<div class="c rr" style="left:72px;top:927px;width:49px;height:23px;line-height:22px;background:#e1ecfd;"><span class="n">36.1</span></div>
<div class="c rr" style="left:120px;top:927px;width:49px;height:23px;line-height:22px;background:#e1ecfd;"><span class="n">44.3</span></div>
<div class="c rr" style="left:168px;top:927px;width:49px;height:23px;line-height:22px;background:#e1ecfd;"><span class="n">2.3%</span></div>
<div class="c m" style="left:24px;top:949px;width:49px;height:23px;line-height:22px;background:#fff;"><span class="n">3-9</span></div>
<div class="c rr" style="left:72px;top:949px;width:49px;height:23px;line-height:22px;background:#fff;"><span class="n">38.8</span></div>
<div class="c rr" style="left:120px;top:949px;width:49px;height:23px;line-height:22px;background:#fff;"><span class="n">48.3</span></div>
<div class="c rr" style="left:168px;top:949px;width:49px;height:23px;line-height:22px;background:#fff;"><span class="n">2.1%</span></div>
<div class="c bh" style="left:229px;top:644px;width:193px;height:27px;line-height:26px;"><i class="dot"></i>推定ワイド出現率</div>
<div class="c h sm" style="left:229px;top:670px;width:49px;height:19px;line-height:18px;">馬番</div>
<div class="c h sm" style="left:277px;top:670px;width:50px;height:19px;line-height:18px;">オッズ</div>
<div class="c h sm" style="left:326px;top:670px;width:49px;height:19px;line-height:18px;">ボーダー</div>
<div class="c h sm" style="left:374px;top:670px;width:48px;height:19px;line-height:18px;">出現率</div>
<div class="c m" style="left:229px;top:688px;width:49px;height:23px;line-height:22px;background:#fff;"><span class="n">1-7</span></div>
<div class="c rr" style="left:277px;top:688px;width:50px;height:23px;line-height:22px;background:#fff;"><span class="n">2.7</span></div>
<div class="c rr" style="left:326px;top:688px;width:49px;height:23px;line-height:22px;background:#fff;"><span class="n">3.6</span></div>
<div class="c rr" style="left:374px;top:688px;width:48px;height:23px;line-height:22px;background:#fff;"><span class="n">27.9%</span></div>
<div class="c m" style="left:229px;top:710px;width:49px;height:23px;line-height:22px;background:#e1ecfd;"><span class="n">1-9</span></div>
<div class="c rr" style="left:277px;top:710px;width:50px;height:23px;line-height:22px;background:#e1ecfd;"><span class="n">3.7</span></div>
<div class="c rr" style="left:326px;top:710px;width:49px;height:23px;line-height:22px;background:#e1ecfd;"><span class="n">4.3</span></div>
<div class="c rr" style="left:374px;top:710px;width:48px;height:23px;line-height:22px;background:#e1ecfd;"><span class="n">23.2%</span></div>
<div class="c m" style="left:229px;top:732px;width:49px;height:22px;line-height:21px;background:#fff;"><span class="n">1-5</span></div>
<div class="c rr" style="left:277px;top:732px;width:50px;height:22px;line-height:21px;background:#fff;"><span class="n">4.1</span></div>
<div class="c rr" style="left:326px;top:732px;width:49px;height:22px;line-height:21px;background:#fff;"><span class="n">4.8</span></div>
<div class="c rr" style="left:374px;top:732px;width:48px;height:22px;line-height:21px;background:#fff;"><span class="n">20.7%</span></div>
<div class="c m" style="left:229px;top:753px;width:49px;height:23px;line-height:22px;background:#e1ecfd;"><span class="n">1-3</span></div>
<div class="c rr" style="left:277px;top:753px;width:50px;height:23px;line-height:22px;background:#e1ecfd;"><span class="n">5.1</span></div>
<div class="c rr" style="left:326px;top:753px;width:49px;height:23px;line-height:22px;background:#e1ecfd;"><span class="n">5.5</span></div>
<div class="c rr" style="left:374px;top:753px;width:48px;height:23px;line-height:22px;background:#e1ecfd;"><span class="n">18.1%</span></div>
<div class="c m" style="left:229px;top:775px;width:49px;height:23px;line-height:22px;background:#fff;"><span class="n">1-8</span></div>
<div class="c rr" style="left:277px;top:775px;width:50px;height:23px;line-height:22px;background:#fff;"><span class="n">6.4</span></div>
<div class="c rr" style="left:326px;top:775px;width:49px;height:23px;line-height:22px;background:#fff;"><span class="n">7.6</span></div>
<div class="c rr" style="left:374px;top:775px;width:48px;height:23px;line-height:22px;background:#fff;"><span class="n">13.2%</span></div>
<div class="c m" style="left:229px;top:797px;width:49px;height:23px;line-height:22px;background:#e1ecfd;"><span class="n">7-9</span></div>
<div class="c rr" style="left:277px;top:797px;width:50px;height:23px;line-height:22px;background:#e1ecfd;"><span class="n">6.3</span></div>
<div class="c rr" style="left:326px;top:797px;width:49px;height:23px;line-height:22px;background:#e1ecfd;"><span class="n">9.3</span></div>
<div class="c rr" style="left:374px;top:797px;width:48px;height:23px;line-height:22px;background:#e1ecfd;"><span class="n">10.7%</span></div>
<div class="c m" style="left:229px;top:819px;width:49px;height:22px;line-height:21px;background:#fff;"><span class="n">5-7</span></div>
<div class="c rr" style="left:277px;top:819px;width:50px;height:22px;line-height:21px;background:#fff;"><span class="n">7.0</span></div>
<div class="c rr" style="left:326px;top:819px;width:49px;height:22px;line-height:21px;background:#fff;"><span class="n">9.8</span></div>
<div class="c rr" style="left:374px;top:819px;width:48px;height:22px;line-height:21px;background:#fff;"><span class="n">10.2%</span></div>
<div class="c m" style="left:229px;top:840px;width:49px;height:23px;line-height:22px;background:#fbdfd1;"><span class="n">3-7</span></div>
<div class="c rr" style="left:277px;top:840px;width:50px;height:23px;line-height:22px;background:#fbdfd1;"><span class="n">10.3</span></div>
<div class="c rr" style="left:326px;top:840px;width:49px;height:23px;line-height:22px;background:#fbdfd1;"><span class="n">9.8</span></div>
<div class="c rr" style="left:374px;top:840px;width:48px;height:23px;line-height:22px;background:#fbdfd1;"><span class="n">10.2%</span></div>
<div class="c bh" style="left:434px;top:644px;width:193px;height:27px;line-height:26px;"><i class="dot"></i>推定<span class="n">3</span>連複出現率</div>
<div class="c h sm" style="left:434px;top:670px;width:49px;height:19px;line-height:18px;">馬番</div>
<div class="c h sm" style="left:482px;top:670px;width:49px;height:19px;line-height:18px;">オッズ</div>
<div class="c h sm" style="left:530px;top:670px;width:50px;height:19px;line-height:18px;">ボーダー</div>
<div class="c h sm" style="left:579px;top:670px;width:48px;height:19px;line-height:18px;">出現率</div>
<div class="c m" style="left:434px;top:688px;width:49px;height:23px;line-height:22px;background:#fff;"><span class="n">1-7-9</span></div>
<div class="c rr" style="left:482px;top:688px;width:49px;height:23px;line-height:22px;background:#fff;"><span class="n">12.8</span></div>
<div class="c rr" style="left:530px;top:688px;width:50px;height:23px;line-height:22px;background:#fff;"><span class="n">18.3</span></div>
<div class="c rr" style="left:579px;top:688px;width:48px;height:23px;line-height:22px;background:#fff;"><span class="n">5.5%</span></div>
<div class="c m" style="left:434px;top:710px;width:49px;height:23px;line-height:22px;background:#e1ecfd;"><span class="n">1-5-7</span></div>
<div class="c rr" style="left:482px;top:710px;width:49px;height:23px;line-height:22px;background:#e1ecfd;"><span class="n">13.3</span></div>
<div class="c rr" style="left:530px;top:710px;width:50px;height:23px;line-height:22px;background:#e1ecfd;"><span class="n">18.3</span></div>
<div class="c rr" style="left:579px;top:710px;width:48px;height:23px;line-height:22px;background:#e1ecfd;"><span class="n">5.5%</span></div>
<div class="c m" style="left:434px;top:732px;width:49px;height:22px;line-height:21px;background:#fbdfd1;"><span class="n">1-3-7</span></div>
<div class="c rr" style="left:482px;top:732px;width:49px;height:22px;line-height:21px;background:#fbdfd1;"><span class="n">20.4</span></div>
<div class="c rr" style="left:530px;top:732px;width:50px;height:22px;line-height:21px;background:#fbdfd1;"><span class="n">19.0</span></div>
<div class="c rr" style="left:579px;top:732px;width:48px;height:22px;line-height:21px;background:#fbdfd1;"><span class="n">5.3%</span></div>
<div class="c m" style="left:434px;top:753px;width:49px;height:23px;line-height:22px;background:#e1ecfd;"><span class="n">1-5-9</span></div>
<div class="c rr" style="left:482px;top:753px;width:49px;height:23px;line-height:22px;background:#e1ecfd;"><span class="n">17.7</span></div>
<div class="c rr" style="left:530px;top:753px;width:50px;height:23px;line-height:22px;background:#e1ecfd;"><span class="n">25.3</span></div>
<div class="c rr" style="left:579px;top:753px;width:48px;height:23px;line-height:22px;background:#e1ecfd;"><span class="n">4.0%</span></div>
<div class="c m" style="left:434px;top:775px;width:49px;height:23px;line-height:22px;background:#fff;"><span class="n">1-3-9</span></div>
<div class="c rr" style="left:482px;top:775px;width:49px;height:23px;line-height:22px;background:#fff;"><span class="n">23.0</span></div>
<div class="c rr" style="left:530px;top:775px;width:50px;height:23px;line-height:22px;background:#fff;"><span class="n">27.9</span></div>
<div class="c rr" style="left:579px;top:775px;width:48px;height:23px;line-height:22px;background:#fff;"><span class="n">3.6%</span></div>
<div class="c m" style="left:434px;top:797px;width:49px;height:23px;line-height:22px;background:#e1ecfd;"><span class="n">1-3-5</span></div>
<div class="c rr" style="left:482px;top:797px;width:49px;height:23px;line-height:22px;background:#e1ecfd;"><span class="n">30.8</span></div>
<div class="c rr" style="left:530px;top:797px;width:50px;height:23px;line-height:22px;background:#e1ecfd;"><span class="n">33.2</span></div>
<div class="c rr" style="left:579px;top:797px;width:48px;height:23px;line-height:22px;background:#e1ecfd;"><span class="n">3.0%</span></div>
<div class="c m" style="left:434px;top:819px;width:49px;height:22px;line-height:21px;background:#fff;"><span class="n">1-8-9</span></div>
<div class="c rr" style="left:482px;top:819px;width:49px;height:22px;line-height:21px;background:#fff;"><span class="n">36.5</span></div>
<div class="c rr" style="left:530px;top:819px;width:50px;height:22px;line-height:21px;background:#fff;"><span class="n">37.9</span></div>
<div class="c rr" style="left:579px;top:819px;width:48px;height:22px;line-height:21px;background:#fff;"><span class="n">2.6%</span></div>
<div class="c m" style="left:434px;top:840px;width:49px;height:23px;line-height:22px;background:#e1ecfd;"><span class="n">1-5-8</span></div>
<div class="c rr" style="left:482px;top:840px;width:49px;height:23px;line-height:22px;background:#e1ecfd;"><span class="n">33.2</span></div>
<div class="c rr" style="left:530px;top:840px;width:50px;height:23px;line-height:22px;background:#e1ecfd;"><span class="n">37.9</span></div>
<div class="c rr" style="left:579px;top:840px;width:48px;height:23px;line-height:22px;background:#e1ecfd;"><span class="n">2.6%</span></div>
<div class="c m" style="left:434px;top:862px;width:49px;height:23px;line-height:22px;background:#fff;"><span class="n">1-7-8</span></div>
<div class="c rr" style="left:482px;top:862px;width:49px;height:23px;line-height:22px;background:#fff;"><span class="n">22.9</span></div>
<div class="c rr" style="left:530px;top:862px;width:50px;height:23px;line-height:22px;background:#fff;"><span class="n">40.8</span></div>
<div class="c rr" style="left:579px;top:862px;width:48px;height:23px;line-height:22px;background:#fff;"><span class="n">2.4%</span></div>
<div class="c m" style="left:434px;top:884px;width:49px;height:22px;line-height:21px;background:#fbdfd1;"><span class="n">1-9-11</span></div>
<div class="c rr" style="left:482px;top:884px;width:49px;height:22px;line-height:21px;background:#fbdfd1;"><span class="n">49.8</span></div>
<div class="c rr" style="left:530px;top:884px;width:50px;height:22px;line-height:21px;background:#fbdfd1;"><span class="n">40.8</span></div>
<div class="c rr" style="left:579px;top:884px;width:48px;height:22px;line-height:21px;background:#fbdfd1;"><span class="n">2.4%</span></div>
<div class="c m" style="left:434px;top:905px;width:49px;height:23px;line-height:22px;background:#fff;"><span class="n">1-7-16</span></div>
<div class="c rr" style="left:482px;top:905px;width:49px;height:23px;line-height:22px;background:#fff;"><span class="n">29.7</span></div>
<div class="c rr" style="left:530px;top:905px;width:50px;height:23px;line-height:22px;background:#fff;"><span class="n">44.3</span></div>
<div class="c rr" style="left:579px;top:905px;width:48px;height:23px;line-height:22px;background:#fff;"><span class="n">2.3%</span></div>
<div class="r rc" style="left:25px;top:1036px;width:275px;height:22px;line-height:22px;">レース数：<b><span class="n">531</span></b></div>
<div class="c bh" style="left:24px;top:1059px;width:196px;height:28px;line-height:27px;"><i class="dot"></i>和の買い目（馬連）</div>
<div class="c h h2" style="left:24px;top:1086px;width:99px;height:46px;line-height:45px;"><span class="n">C</span>人気<br>合計値</div>
<div class="c h h1" style="left:122px;top:1086px;width:98px;height:46px;line-height:45px;">出現率</div>
<div class="c m" style="left:24px;top:1131px;width:99px;height:23px;line-height:22px;background:#fff;"><span class="n">3</span></div>
<div class="c rr" style="left:122px;top:1131px;width:98px;height:23px;line-height:22px;background:#fff;"><span class="n">14.7%</span></div>
<div class="c m" style="left:24px;top:1153px;width:99px;height:23px;line-height:22px;background:#e1ecfd;"><span class="n">4</span></div>
<div class="c rr" style="left:122px;top:1153px;width:98px;height:23px;line-height:22px;background:#e1ecfd;"><span class="n">10.9%</span></div>
<div class="c m" style="left:24px;top:1175px;width:99px;height:22px;line-height:21px;background:#fff;"><span class="n">5</span></div>
<div class="c rr" style="left:122px;top:1175px;width:98px;height:22px;line-height:21px;background:#fff;"><span class="n">11.5%</span></div>
<div class="c m" style="left:24px;top:1196px;width:99px;height:23px;line-height:22px;background:#e1ecfd;"><span class="n">6</span></div>
<div class="c rr" style="left:122px;top:1196px;width:98px;height:23px;line-height:22px;background:#e1ecfd;"><span class="n">9.0%</span></div>
<div class="c m" style="left:24px;top:1218px;width:99px;height:23px;line-height:22px;background:#fff;"><span class="n">7</span></div>
<div class="c rr" style="left:122px;top:1218px;width:98px;height:23px;line-height:22px;background:#fff;"><span class="n">11.5%</span></div>
<div class="c m" style="left:24px;top:1240px;width:99px;height:22px;line-height:21px;background:#e1ecfd;"><span class="n">8</span></div>
<div class="c rr" style="left:122px;top:1240px;width:98px;height:22px;line-height:21px;background:#e1ecfd;"><span class="n">6.2%</span></div>
<div class="c m" style="left:24px;top:1261px;width:99px;height:23px;line-height:22px;background:#fff;"><span class="n">9</span></div>
<div class="c rr" style="left:122px;top:1261px;width:98px;height:23px;line-height:22px;background:#fff;"><span class="n">7.5%</span></div>
<div class="c m" style="left:24px;top:1283px;width:99px;height:23px;line-height:22px;background:#e1ecfd;"><span class="n">10</span></div>
<div class="c rr" style="left:122px;top:1283px;width:98px;height:23px;line-height:22px;background:#e1ecfd;"><span class="n">4.9%</span></div>
<div class="c m" style="left:24px;top:1305px;width:99px;height:23px;line-height:22px;background:#fff;"><span class="n">11</span></div>
<div class="c rr" style="left:122px;top:1305px;width:98px;height:23px;line-height:22px;background:#fff;"><span class="n">4.3%</span></div>
<div class="c m" style="left:24px;top:1327px;width:99px;height:22px;line-height:21px;background:#e1ecfd;"><span class="n">12</span></div>
<div class="c rr" style="left:122px;top:1327px;width:98px;height:22px;line-height:21px;background:#e1ecfd;"><span class="n">2.8%</span></div>
<div class="c m" style="left:24px;top:1348px;width:99px;height:23px;line-height:22px;background:#fff;"><span class="n">13</span></div>
<div class="c rr" style="left:122px;top:1348px;width:98px;height:23px;line-height:22px;background:#fff;"><span class="n">2.6%</span></div>
<div class="c m" style="left:24px;top:1370px;width:99px;height:23px;line-height:22px;background:#e1ecfd;"><span class="n">14</span></div>
<div class="c rr" style="left:122px;top:1370px;width:98px;height:23px;line-height:22px;background:#e1ecfd;"><span class="n">1.1%</span></div>
<div class="c m" style="left:24px;top:1392px;width:99px;height:22px;line-height:21px;background:#ff8c12;"><span class="n">15+</span></div>
<div class="c rr" style="left:122px;top:1392px;width:98px;height:22px;line-height:21px;background:#ff8c12;"><span class="n">12.8%</span></div>
<div class="c bh" style="left:227px;top:1059px;width:197px;height:28px;line-height:27px;"><i class="dot"></i>和の買い目（ワイド）</div>
<div class="c h h2" style="left:227px;top:1086px;width:99px;height:46px;line-height:45px;"><span class="n">C</span>人気<br>合計値</div>
<div class="c h h1" style="left:325px;top:1086px;width:99px;height:46px;line-height:45px;">出現率</div>
<div class="c m" style="left:227px;top:1131px;width:99px;height:23px;line-height:22px;background:#fff;"><span class="n">3</span></div>
<div class="c rr" style="left:325px;top:1131px;width:99px;height:23px;line-height:22px;background:#fff;"><span class="n">27.9%</span></div>
<div class="c m" style="left:227px;top:1153px;width:99px;height:23px;line-height:22px;background:#e1ecfd;"><span class="n">4</span></div>
<div class="c rr" style="left:325px;top:1153px;width:99px;height:23px;line-height:22px;background:#e1ecfd;"><span class="n">23.2%</span></div>
<div class="c m" style="left:227px;top:1175px;width:99px;height:22px;line-height:21px;background:#fff;"><span class="n">5</span></div>
<div class="c rr" style="left:325px;top:1175px;width:99px;height:22px;line-height:21px;background:#fff;"><span class="n">31.5%</span></div>
<div class="c m" style="left:227px;top:1196px;width:99px;height:23px;line-height:22px;background:#e1ecfd;"><span class="n">6</span></div>
<div class="c rr" style="left:325px;top:1196px;width:99px;height:23px;line-height:22px;background:#e1ecfd;"><span class="n">28.2%</span></div>
<div class="c m" style="left:227px;top:1218px;width:99px;height:23px;line-height:22px;background:#fff;"><span class="n">7</span></div>
<div class="c rr" style="left:325px;top:1218px;width:99px;height:23px;line-height:22px;background:#fff;"><span class="n">30.9%</span></div>
<div class="c m" style="left:227px;top:1240px;width:99px;height:22px;line-height:21px;background:#e1ecfd;"><span class="n">8</span></div>
<div class="c rr" style="left:325px;top:1240px;width:99px;height:22px;line-height:21px;background:#e1ecfd;"><span class="n">22.2%</span></div>
<div class="c m" style="left:227px;top:1261px;width:99px;height:23px;line-height:22px;background:#fff;"><span class="n">9</span></div>
<div class="c rr" style="left:325px;top:1261px;width:99px;height:23px;line-height:22px;background:#fff;"><span class="n">25.2%</span></div>
<div class="c m" style="left:227px;top:1283px;width:99px;height:23px;line-height:22px;background:#e1ecfd;"><span class="n">10</span></div>
<div class="c rr" style="left:325px;top:1283px;width:99px;height:23px;line-height:22px;background:#e1ecfd;"><span class="n">19.0%</span></div>
<div class="c m" style="left:227px;top:1305px;width:99px;height:23px;line-height:22px;background:#fff;"><span class="n">11</span></div>
<div class="c rr" style="left:325px;top:1305px;width:99px;height:23px;line-height:22px;background:#fff;"><span class="n">19.2%</span></div>
<div class="c m" style="left:227px;top:1327px;width:99px;height:22px;line-height:21px;background:#e1ecfd;"><span class="n">12</span></div>
<div class="c rr" style="left:325px;top:1327px;width:99px;height:22px;line-height:21px;background:#e1ecfd;"><span class="n">10.7%</span></div>
<div class="c m" style="left:227px;top:1348px;width:99px;height:23px;line-height:22px;background:#fff;"><span class="n">13</span></div>
<div class="c rr" style="left:325px;top:1348px;width:99px;height:23px;line-height:22px;background:#fff;"><span class="n">12.2%</span></div>
<div class="c m" style="left:227px;top:1370px;width:99px;height:23px;line-height:22px;background:#e1ecfd;"><span class="n">14</span></div>
<div class="c rr" style="left:325px;top:1370px;width:99px;height:23px;line-height:22px;background:#e1ecfd;"><span class="n">9.4%</span></div>
<div class="c m" style="left:227px;top:1392px;width:99px;height:22px;line-height:21px;background:#fff;"><span class="n">15+</span></div>
<div class="c rr" style="left:325px;top:1392px;width:99px;height:22px;line-height:21px;background:#fff;"><span class="n">40.1%</span></div>
<div class="c bh" style="left:431px;top:1059px;width:197px;height:28px;line-height:27px;"><i class="dot"></i>和の買い目（<span class="n">3</span>連複）</div>
<div class="c h h2" style="left:431px;top:1086px;width:99px;height:46px;line-height:45px;"><span class="n">C</span>人気<br>合計値</div>
<div class="c h h1" style="left:529px;top:1086px;width:99px;height:46px;line-height:45px;">出現率</div>
<div class="c m" style="left:431px;top:1131px;width:99px;height:23px;line-height:22px;background:#fff;"><span class="n">6</span></div>
<div class="c rr" style="left:529px;top:1131px;width:99px;height:23px;line-height:22px;background:#fff;"><span class="n">5.5%</span></div>
<div class="c m" style="left:431px;top:1153px;width:99px;height:23px;line-height:22px;background:#e1ecfd;"><span class="n">7</span></div>
<div class="c rr" style="left:529px;top:1153px;width:99px;height:23px;line-height:22px;background:#e1ecfd;"><span class="n">5.5%</span></div>
<div class="c m" style="left:431px;top:1175px;width:99px;height:22px;line-height:21px;background:#ffddb0;"><span class="n">8</span></div>
<div class="c rr" style="left:529px;top:1175px;width:99px;height:22px;line-height:21px;background:#ffddb0;"><span class="n">9.2%</span></div>
<div class="c m" style="left:431px;top:1196px;width:99px;height:23px;line-height:22px;background:#e1ecfd;"><span class="n">9</span></div>
<div class="c rr" style="left:529px;top:1196px;width:99px;height:23px;line-height:22px;background:#e1ecfd;"><span class="n">7.2%</span></div>
<div class="c m" style="left:431px;top:1218px;width:99px;height:23px;line-height:22px;background:#fff;"><span class="n">10</span></div>
<div class="c rr" style="left:529px;top:1218px;width:99px;height:23px;line-height:22px;background:#fff;"><span class="n">9.6%</span></div>
<div class="c m" style="left:431px;top:1240px;width:99px;height:22px;line-height:21px;background:#e1ecfd;"><span class="n">11</span></div>
<div class="c rr" style="left:529px;top:1240px;width:99px;height:22px;line-height:21px;background:#e1ecfd;"><span class="n">7.3%</span></div>
<div class="c m" style="left:431px;top:1261px;width:99px;height:23px;line-height:22px;background:#ffddb0;"><span class="n">12</span></div>
<div class="c rr" style="left:529px;top:1261px;width:99px;height:23px;line-height:22px;background:#ffddb0;"><span class="n">9.6%</span></div>
<div class="c m" style="left:431px;top:1283px;width:99px;height:23px;line-height:22px;background:#e1ecfd;"><span class="n">13</span></div>
<div class="c rr" style="left:529px;top:1283px;width:99px;height:23px;line-height:22px;background:#e1ecfd;"><span class="n">5.8%</span></div>
<div class="c m" style="left:431px;top:1305px;width:99px;height:23px;line-height:22px;background:#ffab45;"><span class="n">14</span></div>
<div class="c rr" style="left:529px;top:1305px;width:99px;height:23px;line-height:22px;background:#ffab45;"><span class="n">7.3%</span></div>
<div class="c m" style="left:431px;top:1327px;width:99px;height:22px;line-height:21px;background:#ffddb0;"><span class="n">15</span></div>
<div class="c rr" style="left:529px;top:1327px;width:99px;height:22px;line-height:21px;background:#ffddb0;"><span class="n">4.7%</span></div>
<div class="c m" style="left:431px;top:1348px;width:99px;height:23px;line-height:22px;background:#fff;"><span class="n">16</span></div>
<div class="c rr" style="left:529px;top:1348px;width:99px;height:23px;line-height:22px;background:#fff;"><span class="n">3.4%</span></div>
<div class="c m" style="left:431px;top:1370px;width:99px;height:23px;line-height:22px;background:#e1ecfd;"><span class="n">17</span></div>
<div class="c rr" style="left:529px;top:1370px;width:99px;height:23px;line-height:22px;background:#e1ecfd;"><span class="n">3.4%</span></div>
<div class="c m" style="left:431px;top:1392px;width:99px;height:22px;line-height:21px;background:#ff8c12;"><span class="n">18+</span></div>
<div class="c rr" style="left:529px;top:1392px;width:99px;height:22px;line-height:21px;background:#ff8c12;"><span class="n">21.5%</span></div>
<div class="c bh" style="left:24px;top:1482px;width:603px;height:28px;line-height:27px;"><i class="dot"></i>枠順別成績<i class="sp"></i>過去<b><span class="n">10</span></b>年<i class="sp"></i>頭数<b>：<span class="n">16</span></b>頭</div>
<div class="c h" style="left:24px;top:1509px;width:114px;height:28px;line-height:27px;">枠順</div>
<div class="c h" style="left:137px;top:1509px;width:189px;height:28px;line-height:27px;">着別度数</div>
<div class="c h" style="left:325px;top:1509px;width:76px;height:28px;line-height:27px;">勝率</div>
<div class="c h" style="left:400px;top:1509px;width:77px;height:28px;line-height:27px;">連対率</div>
<div class="c h" style="left:476px;top:1509px;width:76px;height:28px;line-height:27px;">複勝率</div>
<div class="c h" style="left:551px;top:1509px;width:76px;height:28px;line-height:27px;">評価</div>
<div class="c l" style="left:24px;top:1536px;width:114px;height:23px;line-height:22px;background:#f0f0f0;color:#222;"><span class="n">1</span>枠</div>
<div class="c l" style="left:137px;top:1536px;width:189px;height:23px;line-height:22px;background:#fff;"><span class="n">89-87-87-1296</span></div>
<div class="c rr" style="left:325px;top:1536px;width:76px;height:23px;line-height:22px;background:#fff;"><span class="n">5.7%</span></div>
<div class="c rr" style="left:400px;top:1536px;width:77px;height:23px;line-height:22px;background:#fff;"><span class="n">11.3%</span></div>
<div class="c rr" style="left:476px;top:1536px;width:76px;height:23px;line-height:22px;background:#fff;"><span class="n">16.9%</span></div>
<div class="c m" style="left:551px;top:1536px;width:76px;height:23px;line-height:22px;background:#fff;"><span class="n">D</span></div>
<div class="c l" style="left:24px;top:1558px;width:114px;height:23px;line-height:22px;background:#000;color:#fff;"><span class="n">2</span>枠</div>
<div class="c l" style="left:137px;top:1558px;width:189px;height:23px;line-height:22px;background:#e1ecfd;"><span class="n">117-88-80-1278</span></div>
<div class="c rr" style="left:325px;top:1558px;width:76px;height:23px;line-height:22px;background:#fbdfd1;"><span class="n">7.5%</span></div>
<div class="c rr" style="left:400px;top:1558px;width:77px;height:23px;line-height:22px;background:#e1ecfd;"><span class="n">13.1%</span></div>
<div class="c rr" style="left:476px;top:1558px;width:76px;height:23px;line-height:22px;background:#e1ecfd;"><span class="n">18.2%</span></div>
<div class="c m" style="left:551px;top:1558px;width:76px;height:23px;line-height:22px;background:#e1ecfd;"><span class="n">C</span></div>
<div class="c l" style="left:24px;top:1580px;width:114px;height:22px;line-height:21px;background:#ea4335;color:#fff;"><span class="n">3</span>枠</div>
<div class="c l" style="left:137px;top:1580px;width:189px;height:22px;line-height:21px;background:#fff;"><span class="n">61-92-94-1318</span></div>
<div class="c rr" style="left:325px;top:1580px;width:76px;height:22px;line-height:21px;background:#fff;"><span class="n">3.9%</span></div>
<div class="c rr" style="left:400px;top:1580px;width:77px;height:22px;line-height:21px;background:#fff;"><span class="n">9.8%</span></div>
<div class="c rr" style="left:476px;top:1580px;width:76px;height:22px;line-height:21px;background:#fff;"><span class="n">15.8%</span></div>
<div class="c m" style="left:551px;top:1580px;width:76px;height:22px;line-height:21px;background:#fff;"><span class="n">D</span></div>
<div class="c l" style="left:24px;top:1601px;width:114px;height:23px;line-height:22px;background:#4285f4;color:#fff;"><span class="n">4</span>枠</div>
<div class="c l" style="left:137px;top:1601px;width:189px;height:23px;line-height:22px;background:#e1ecfd;"><span class="n">99-88-97-1282</span></div>
<div class="c rr" style="left:325px;top:1601px;width:76px;height:23px;line-height:22px;background:#e1ecfd;"><span class="n">6.3%</span></div>
<div class="c rr" style="left:400px;top:1601px;width:77px;height:23px;line-height:22px;background:#e1ecfd;"><span class="n">11.9%</span></div>
<div class="c rr" style="left:476px;top:1601px;width:76px;height:23px;line-height:22px;background:#e1ecfd;"><span class="n">18.1%</span></div>
<div class="c m" style="left:551px;top:1601px;width:76px;height:23px;line-height:22px;background:#e1ecfd;"><span class="n">D</span></div>
<div class="c l" style="left:24px;top:1623px;width:114px;height:23px;line-height:22px;background:#f3cc06;color:#222;"><span class="n">5</span>枠</div>
<div class="c l" style="left:137px;top:1623px;width:189px;height:23px;line-height:22px;background:#fff;"><span class="n">93-111-101-1257</span></div>
<div class="c rr" style="left:325px;top:1623px;width:76px;height:23px;line-height:22px;background:#fff;"><span class="n">6.0%</span></div>
<div class="c rr" style="left:400px;top:1623px;width:77px;height:23px;line-height:22px;background:#fff;"><span class="n">13.1%</span></div>
<div class="c rr" style="left:476px;top:1623px;width:76px;height:23px;line-height:22px;background:#fff;"><span class="n">19.5%</span></div>
<div class="c m" style="left:551px;top:1623px;width:76px;height:23px;line-height:22px;background:#fff;"><span class="n">D</span></div>
<div class="c l" style="left:24px;top:1645px;width:114px;height:23px;line-height:22px;background:#22ac38;color:#fff;"><span class="n">6</span>枠</div>
<div class="c l" style="left:137px;top:1645px;width:189px;height:23px;line-height:22px;background:#e1ecfd;"><span class="n">111-108-100-1241</span></div>
<div class="c rr" style="left:325px;top:1645px;width:76px;height:23px;line-height:22px;background:#e1ecfd;"><span class="n">7.1%</span></div>
<div class="c rr" style="left:400px;top:1645px;width:77px;height:23px;line-height:22px;background:#e1ecfd;"><span class="n">14.0%</span></div>
<div class="c rr" style="left:476px;top:1645px;width:76px;height:23px;line-height:22px;background:#e1ecfd;"><span class="n">20.4%</span></div>
<div class="c m" style="left:551px;top:1645px;width:76px;height:23px;line-height:22px;background:#e1ecfd;"><span class="n">D</span></div>
<div class="c l" style="left:24px;top:1667px;width:114px;height:22px;line-height:21px;background:#e8961c;color:#fff;"><span class="n">7</span>枠</div>
<div class="c l" style="left:137px;top:1667px;width:189px;height:22px;line-height:21px;background:#fff;"><span class="n">107-103-111-1241</span></div>
<div class="c rr" style="left:325px;top:1667px;width:76px;height:22px;line-height:21px;background:#fff;"><span class="n">6.9%</span></div>
<div class="c rr" style="left:400px;top:1667px;width:77px;height:22px;line-height:21px;background:#fff;"><span class="n">13.4%</span></div>
<div class="c rr" style="left:476px;top:1667px;width:76px;height:22px;line-height:21px;background:#fff;"><span class="n">20.6%</span></div>
<div class="c m" style="left:551px;top:1667px;width:76px;height:22px;line-height:21px;background:#fff;"><span class="n">D</span></div>
<div class="c l" style="left:24px;top:1688px;width:114px;height:23px;line-height:22px;background:#e24d94;color:#fff;"><span class="n">8</span>枠</div>
<div class="c l" style="left:137px;top:1688px;width:189px;height:23px;line-height:22px;background:#e1ecfd;"><span class="n">107-108-114-1235</span></div>
<div class="c rr" style="left:325px;top:1688px;width:76px;height:23px;line-height:22px;background:#e1ecfd;"><span class="n">6.8%</span></div>
<div class="c rr" style="left:400px;top:1688px;width:77px;height:23px;line-height:22px;background:#e1ecfd;"><span class="n">13.7%</span></div>
<div class="c rr" style="left:476px;top:1688px;width:76px;height:23px;line-height:22px;background:#e1ecfd;"><span class="n">21.0%</span></div>
<div class="c m" style="left:551px;top:1688px;width:76px;height:23px;line-height:22px;background:#e1ecfd;"><span class="n">D</span></div>
<div class="c bh" style="left:24px;top:1725px;width:603px;height:28px;line-height:27px;"><i class="dot"></i>騎手別成績<i class="sp"></i>過去<b><span class="n">5</span></b>年<i class="sp"></i>頭数指定なし</div>
<div class="c h" style="left:24px;top:1752px;width:38px;height:28px;line-height:27px;">馬番</div>
<div class="c h" style="left:61px;top:1752px;width:114px;height:28px;line-height:27px;">騎手</div>
<div class="c h" style="left:174px;top:1752px;width:152px;height:28px;line-height:27px;">着別度数</div>
<div class="c h" style="left:325px;top:1752px;width:76px;height:28px;line-height:27px;">勝率</div>
<div class="c h" style="left:400px;top:1752px;width:77px;height:28px;line-height:27px;">連対率</div>
<div class="c h" style="left:476px;top:1752px;width:76px;height:28px;line-height:27px;">複勝率</div>
<div class="c h" style="left:551px;top:1752px;width:76px;height:28px;line-height:27px;">評価</div>
<div class="c m" style="left:24px;top:1779px;width:38px;height:23px;line-height:22px;background:#f0f0f0;color:#222;"><span class="n">1</span></div>
<div class="c l" style="left:61px;top:1779px;width:114px;height:23px;line-height:22px;background:#fff;">江田照男</div>
<div class="c l" style="left:174px;top:1779px;width:152px;height:23px;line-height:22px;background:#fff;"><span class="n">7-6-10-164</span></div>
<div class="c rr" style="left:325px;top:1779px;width:76px;height:23px;line-height:22px;background:#fff;"><span class="n">3.7%</span></div>
<div class="c rr" style="left:400px;top:1779px;width:77px;height:23px;line-height:22px;background:#fff;"><span class="n">7.0%</span></div>
<div class="c rr" style="left:476px;top:1779px;width:76px;height:23px;line-height:22px;background:#fff;"><span class="n">12.3%</span></div>
<div class="c m" style="left:551px;top:1779px;width:76px;height:23px;line-height:22px;background:#fff;"><span class="n">D</span></div>
<div class="c m" style="left:24px;top:1801px;width:38px;height:23px;line-height:22px;background:#f0f0f0;color:#222;"><span class="n">2</span></div>
<div class="c l" style="left:61px;top:1801px;width:114px;height:23px;line-height:22px;background:#e1ecfd;">黛弘人</div>
<div class="c l" style="left:174px;top:1801px;width:152px;height:23px;line-height:22px;background:#e1ecfd;"><span class="n">2-5-5-74</span></div>
<div class="c rr" style="left:325px;top:1801px;width:76px;height:23px;line-height:22px;background:#fbdfd1;"><span class="n">2.3%</span></div>
<div class="c rr" style="left:400px;top:1801px;width:77px;height:23px;line-height:22px;background:#e1ecfd;"><span class="n">8.1%</span></div>
<div class="c rr" style="left:476px;top:1801px;width:76px;height:23px;line-height:22px;background:#e1ecfd;"><span class="n">14.0%</span></div>
<div class="c m" style="left:551px;top:1801px;width:76px;height:23px;line-height:22px;background:#e1ecfd;"><span class="n">C</span></div>
<div class="c m" style="left:24px;top:1823px;width:38px;height:22px;line-height:21px;background:#000;color:#fff;"><span class="n">3</span></div>
<div class="c l" style="left:61px;top:1823px;width:114px;height:22px;line-height:21px;background:#fff;">横山和生</div>
<div class="c l" style="left:174px;top:1823px;width:152px;height:22px;line-height:21px;background:#fff;"><span class="n">43-22-26-182</span></div>
<div class="c rr" style="left:325px;top:1823px;width:76px;height:22px;line-height:21px;background:#fbdfd1;"><span class="n">15.8%</span></div>
<div class="c rr" style="left:400px;top:1823px;width:77px;height:22px;line-height:21px;background:#fff;"><span class="n">23.8%</span></div>
<div class="c rr" style="left:476px;top:1823px;width:76px;height:22px;line-height:21px;background:#fff;"><span class="n">33.3%</span></div>
<div class="c m" style="left:551px;top:1823px;width:76px;height:22px;line-height:21px;background:#fff;"><span class="n">C</span></div>
<div class="c m" style="left:24px;top:1844px;width:38px;height:23px;line-height:22px;background:#000;color:#fff;"><span class="n">4</span></div>
<div class="c l" style="left:61px;top:1844px;width:114px;height:23px;line-height:22px;background:#e1ecfd;">柴田大知</div>
<div class="c l" style="left:174px;top:1844px;width:152px;height:23px;line-height:22px;background:#e1ecfd;"><span class="n">4-4-11-194</span></div>
<div class="c rr" style="left:325px;top:1844px;width:76px;height:23px;line-height:22px;background:#e1ecfd;"><span class="n">1.9%</span></div>
<div class="c rr" style="left:400px;top:1844px;width:77px;height:23px;line-height:22px;background:#e1ecfd;"><span class="n">3.8%</span></div>
<div class="c rr" style="left:476px;top:1844px;width:76px;height:23px;line-height:22px;background:#e1ecfd;"><span class="n">8.9%</span></div>
<div class="c m" style="left:551px;top:1844px;width:76px;height:23px;line-height:22px;background:#e1ecfd;"><span class="n">E</span></div>
<div class="c m" style="left:24px;top:1866px;width:38px;height:23px;line-height:22px;background:#ea4335;color:#fff;"><span class="n">5</span></div>
<div class="c l" style="left:61px;top:1866px;width:114px;height:23px;line-height:22px;background:#fff;">ディー</div>
<div class="c l" style="left:174px;top:1866px;width:152px;height:23px;line-height:22px;background:#fff;"><span class="n">0-1-0-3</span></div>
<div class="c rr" style="left:325px;top:1866px;width:76px;height:23px;line-height:22px;background:#fff;"><span class="n">0.0%</span></div>
<div class="c rr" style="left:400px;top:1866px;width:77px;height:23px;line-height:22px;background:#fff;"><span class="n">25.0%</span></div>
<div class="c rr" style="left:476px;top:1866px;width:76px;height:23px;line-height:22px;background:#fff;"><span class="n">25.0%</span></div>
<div class="c m" style="left:551px;top:1866px;width:76px;height:23px;line-height:22px;background:#fff;"><span class="n">D</span></div>
<div class="c m" style="left:24px;top:1888px;width:38px;height:23px;line-height:22px;background:#ea4335;color:#fff;"><span class="n">6</span></div>
<div class="c l" style="left:61px;top:1888px;width:114px;height:23px;line-height:22px;background:#e1ecfd;">武藤雅</div>
<div class="c l" style="left:174px;top:1888px;width:152px;height:23px;line-height:22px;background:#e1ecfd;"><span class="n">4-8-9-135</span></div>
<div class="c rr" style="left:325px;top:1888px;width:76px;height:23px;line-height:22px;background:#e1ecfd;"><span class="n">2.6%</span></div>
<div class="c rr" style="left:400px;top:1888px;width:77px;height:23px;line-height:22px;background:#e1ecfd;"><span class="n">7.7%</span></div>
<div class="c rr" style="left:476px;top:1888px;width:76px;height:23px;line-height:22px;background:#e1ecfd;"><span class="n">13.5%</span></div>
<div class="c m" style="left:551px;top:1888px;width:76px;height:23px;line-height:22px;background:#e1ecfd;"><span class="n">D</span></div>
<div class="c m" style="left:24px;top:1910px;width:38px;height:22px;line-height:21px;background:#4285f4;color:#fff;"><span class="n">7</span></div>
<div class="c l" style="left:61px;top:1910px;width:114px;height:22px;line-height:21px;background:#fff;">津村明秀</div>
<div class="c l" style="left:174px;top:1910px;width:152px;height:22px;line-height:21px;background:#fff;"><span class="n">20-20-19-196</span></div>
<div class="c rr" style="left:325px;top:1910px;width:76px;height:22px;line-height:21px;background:#fff;"><span class="n">7.8%</span></div>
<div class="c rr" style="left:400px;top:1910px;width:77px;height:22px;line-height:21px;background:#fff;"><span class="n">15.7%</span></div>
<div class="c rr" style="left:476px;top:1910px;width:76px;height:22px;line-height:21px;background:#fff;"><span class="n">23.1%</span></div>
<div class="c m" style="left:551px;top:1910px;width:76px;height:22px;line-height:21px;background:#fff;"><span class="n">D</span></div>
<div class="c m" style="left:24px;top:1931px;width:38px;height:23px;line-height:22px;background:#4285f4;color:#fff;"><span class="n">8</span></div>
<div class="c l" style="left:61px;top:1931px;width:114px;height:23px;line-height:22px;background:#e1ecfd;">舟山瑠泉</div>
<div class="c l" style="left:174px;top:1931px;width:152px;height:23px;line-height:22px;background:#e1ecfd;"><span class="n">2-5-0-30</span></div>
<div class="c rr" style="left:325px;top:1931px;width:76px;height:23px;line-height:22px;background:#e1ecfd;"><span class="n">5.4%</span></div>
<div class="c rr" style="left:400px;top:1931px;width:77px;height:23px;line-height:22px;background:#e1ecfd;"><span class="n">18.9%</span></div>
<div class="c rr" style="left:476px;top:1931px;width:76px;height:23px;line-height:22px;background:#fbdfd1;"><span class="n">18.9%</span></div>
<div class="c m" style="left:551px;top:1931px;width:76px;height:23px;line-height:22px;background:#e1ecfd;"><span class="n">C</span></div>
<div class="c m" style="left:24px;top:1953px;width:38px;height:23px;line-height:22px;background:#f3cc06;color:#222;"><span class="n">9</span></div>
<div class="c l" style="left:61px;top:1953px;width:114px;height:23px;line-height:22px;background:#fff;">横山武史</div>
<div class="c l" style="left:174px;top:1953px;width:152px;height:23px;line-height:22px;background:#fff;"><span class="n">62-46-27-219</span></div>
<div class="c rr" style="left:325px;top:1953px;width:76px;height:23px;line-height:22px;background:#fff;"><span class="n">17.5%</span></div>
<div class="c rr" style="left:400px;top:1953px;width:77px;height:23px;line-height:22px;background:#fff;"><span class="n">30.5%</span></div>
<div class="c rr" style="left:476px;top:1953px;width:76px;height:23px;line-height:22px;background:#fff;"><span class="n">38.1%</span></div>
<div class="c m" style="left:551px;top:1953px;width:76px;height:23px;line-height:22px;background:#fff;"><span class="n">D</span></div>
<div class="c m" style="left:24px;top:1975px;width:38px;height:23px;line-height:22px;background:#f3cc06;color:#222;"><span class="n">10</span></div>
<div class="c l" style="left:61px;top:1975px;width:114px;height:23px;line-height:22px;background:#e1ecfd;">原田和真</div>
<div class="c l" style="left:174px;top:1975px;width:152px;height:23px;line-height:22px;background:#e1ecfd;"><span class="n">4-1-5-64</span></div>
<div class="c rr" style="left:325px;top:1975px;width:76px;height:23px;line-height:22px;background:#e1ecfd;"><span class="n">5.4%</span></div>
<div class="c rr" style="left:400px;top:1975px;width:77px;height:23px;line-height:22px;background:#e1ecfd;"><span class="n">6.8%</span></div>
<div class="c rr" style="left:476px;top:1975px;width:76px;height:23px;line-height:22px;background:#fbdfd1;"><span class="n">13.5%</span></div>
<div class="c m" style="left:551px;top:1975px;width:76px;height:23px;line-height:22px;background:#e1ecfd;"><span class="n">C</span></div>
<div class="c m" style="left:24px;top:1997px;width:38px;height:22px;line-height:21px;background:#22ac38;color:#fff;"><span class="n">11</span></div>
<div class="c l" style="left:61px;top:1997px;width:114px;height:22px;line-height:21px;background:#fff;">上里直汰</div>
<div class="c l" style="left:174px;top:1997px;width:152px;height:22px;line-height:21px;background:#fff;"><span class="n">1-5-2-33</span></div>
<div class="c rr" style="left:325px;top:1997px;width:76px;height:22px;line-height:21px;background:#fff;"><span class="n">2.4%</span></div>
<div class="c rr" style="left:400px;top:1997px;width:77px;height:22px;line-height:21px;background:#fff;"><span class="n">14.6%</span></div>
<div class="c rr" style="left:476px;top:1997px;width:76px;height:22px;line-height:21px;background:#fbdfd1;"><span class="n">19.5%</span></div>
<div class="c m" style="left:551px;top:1997px;width:76px;height:22px;line-height:21px;background:#fff;"><span class="n">C</span></div>
<div class="c m" style="left:24px;top:2018px;width:38px;height:23px;line-height:22px;background:#22ac38;color:#fff;"><span class="n">12</span></div>
<div class="c l" style="left:61px;top:2018px;width:114px;height:23px;line-height:22px;background:#e1ecfd;">西村太一</div>
<div class="c l" style="left:174px;top:2018px;width:152px;height:23px;line-height:22px;background:#e1ecfd;"><span class="n">1-2-2-7</span></div>
<div class="c rr" style="left:325px;top:2018px;width:76px;height:23px;line-height:22px;background:#e1ecfd;"><span class="n">8.3%</span></div>
<div class="c rr" style="left:400px;top:2018px;width:77px;height:23px;line-height:22px;background:#e1ecfd;"><span class="n">25.0%</span></div>
<div class="c rr" style="left:476px;top:2018px;width:76px;height:23px;line-height:22px;background:#fbdfd1;"><span class="n">41.7%</span></div>
<div class="c m" style="left:551px;top:2018px;width:76px;height:23px;line-height:22px;background:#e1ecfd;"><span class="n">D</span></div>
<div class="c m" style="left:24px;top:2040px;width:38px;height:23px;line-height:22px;background:#e8961c;color:#fff;"><span class="n">13</span></div>
<div class="c l" style="left:61px;top:2040px;width:114px;height:23px;line-height:22px;background:#fff;">杉原誠人</div>
<div class="c l" style="left:174px;top:2040px;width:152px;height:23px;line-height:22px;background:#fff;"><span class="n">6-8-10-141</span></div>
<div class="c rr" style="left:325px;top:2040px;width:76px;height:23px;line-height:22px;background:#fff;"><span class="n">3.6%</span></div>
<div class="c rr" style="left:400px;top:2040px;width:77px;height:23px;line-height:22px;background:#fff;"><span class="n">8.5%</span></div>
<div class="c rr" style="left:476px;top:2040px;width:76px;height:23px;line-height:22px;background:#fff;"><span class="n">14.5%</span></div>
<div class="c m" style="left:551px;top:2040px;width:76px;height:23px;line-height:22px;background:#fff;"><span class="n">D</span></div>
<div class="c m" style="left:24px;top:2062px;width:38px;height:22px;line-height:21px;background:#e8961c;color:#fff;"><span class="n">14</span></div>
<div class="c l" style="left:61px;top:2062px;width:114px;height:22px;line-height:21px;background:#e1ecfd;">石田拓郎</div>
<div class="c l" style="left:174px;top:2062px;width:152px;height:22px;line-height:21px;background:#e1ecfd;"><span class="n">3-0-0-61</span></div>
<div class="c rr" style="left:325px;top:2062px;width:76px;height:22px;line-height:21px;background:#fbdfd1;"><span class="n">4.7%</span></div>
<div class="c rr" style="left:400px;top:2062px;width:77px;height:22px;line-height:21px;background:#e1ecfd;"><span class="n">4.7%</span></div>
<div class="c rr" style="left:476px;top:2062px;width:76px;height:22px;line-height:21px;background:#e1ecfd;"><span class="n">4.7%</span></div>
<div class="c m" style="left:551px;top:2062px;width:76px;height:22px;line-height:21px;background:#e1ecfd;"><span class="n">D</span></div>
<div class="c m" style="left:24px;top:2083px;width:38px;height:23px;line-height:22px;background:#e24d94;color:#fff;"><span class="n">15</span></div>
<div class="c l" style="left:61px;top:2083px;width:114px;height:23px;line-height:22px;background:#fff;">丹内祐次</div>
<div class="c l" style="left:174px;top:2083px;width:152px;height:23px;line-height:22px;background:#fff;"><span class="n">19-28-20-283</span></div>
<div class="c rr" style="left:325px;top:2083px;width:76px;height:23px;line-height:22px;background:#fff;"><span class="n">5.4%</span></div>
<div class="c rr" style="left:400px;top:2083px;width:77px;height:23px;line-height:22px;background:#fff;"><span class="n">13.4%</span></div>
<div class="c rr" style="left:476px;top:2083px;width:76px;height:23px;line-height:22px;background:#fff;"><span class="n">19.1%</span></div>
<div class="c m" style="left:551px;top:2083px;width:76px;height:23px;line-height:22px;background:#fff;"><span class="n">D</span></div>
<div class="c m" style="left:24px;top:2105px;width:38px;height:23px;line-height:22px;background:#e24d94;color:#fff;"><span class="n">16</span></div>
<div class="c l" style="left:61px;top:2105px;width:114px;height:23px;line-height:22px;background:#e1ecfd;">長浜鴻緒</div>
<div class="c l" style="left:174px;top:2105px;width:152px;height:23px;line-height:22px;background:#e1ecfd;"><span class="n">5-8-8-131</span></div>
<div class="c rr" style="left:325px;top:2105px;width:76px;height:23px;line-height:22px;background:#fbdfd1;"><span class="n">3.3%</span></div>
<div class="c rr" style="left:400px;top:2105px;width:77px;height:23px;line-height:22px;background:#e1ecfd;"><span class="n">8.6%</span></div>
<div class="c rr" style="left:476px;top:2105px;width:76px;height:23px;line-height:22px;background:#e1ecfd;"><span class="n">13.8%</span></div>
<div class="c m" style="left:551px;top:2105px;width:76px;height:23px;line-height:22px;background:#e1ecfd;"><span class="n">C</span></div>
<div class="c bh" style="left:24px;top:2143px;width:603px;height:27px;line-height:26px;"><i class="dot"></i>厩舎別成績<i class="sp"></i>過去<b><span class="n">5</span></b>年<i class="sp"></i>頭数指定なし</div>
<div class="c h" style="left:24px;top:2169px;width:38px;height:29px;line-height:28px;">馬番</div>
<div class="c h" style="left:61px;top:2169px;width:114px;height:29px;line-height:28px;">厩舎</div>
<div class="c h" style="left:174px;top:2169px;width:152px;height:29px;line-height:28px;">着別度数</div>
<div class="c h" style="left:325px;top:2169px;width:76px;height:29px;line-height:28px;">勝率</div>
<div class="c h" style="left:400px;top:2169px;width:77px;height:29px;line-height:28px;">連対率</div>
<div class="c h" style="left:476px;top:2169px;width:76px;height:29px;line-height:28px;">複勝率</div>
<div class="c h" style="left:551px;top:2169px;width:76px;height:29px;line-height:28px;">評価</div>
<div class="c m" style="left:24px;top:2197px;width:38px;height:22px;line-height:21px;background:#f0f0f0;color:#222;"><span class="n">1</span></div>
<div class="c l" style="left:61px;top:2197px;width:114px;height:22px;line-height:21px;background:#fff;">田中剛</div>
<div class="c l" style="left:174px;top:2197px;width:152px;height:22px;line-height:21px;background:#fff;"><span class="n">1-6-5-78</span></div>
<div class="c rr" style="left:325px;top:2197px;width:76px;height:22px;line-height:21px;background:#fff;"><span class="n">1.1%</span></div>
<div class="c rr" style="left:400px;top:2197px;width:77px;height:22px;line-height:21px;background:#fff;"><span class="n">7.8%</span></div>
<div class="c rr" style="left:476px;top:2197px;width:76px;height:22px;line-height:21px;background:#fff;"><span class="n">13.3%</span></div>
<div class="c m" style="left:551px;top:2197px;width:76px;height:22px;line-height:21px;background:#fff;"><span class="n">D</span></div>
<div class="c m" style="left:24px;top:2218px;width:38px;height:23px;line-height:22px;background:#f0f0f0;color:#222;"><span class="n">2</span></div>
<div class="c l" style="left:61px;top:2218px;width:114px;height:23px;line-height:22px;background:#e1ecfd;">奥平雅士</div>
<div class="c l" style="left:174px;top:2218px;width:152px;height:23px;line-height:22px;background:#e1ecfd;"><span class="n">4-8-9-84</span></div>
<div class="c rr" style="left:325px;top:2218px;width:76px;height:23px;line-height:22px;background:#e1ecfd;"><span class="n">3.8%</span></div>
<div class="c rr" style="left:400px;top:2218px;width:77px;height:23px;line-height:22px;background:#e1ecfd;"><span class="n">11.4%</span></div>
<div class="c rr" style="left:476px;top:2218px;width:76px;height:23px;line-height:22px;background:#e1ecfd;"><span class="n">20.0%</span></div>
<div class="c m" style="left:551px;top:2218px;width:76px;height:23px;line-height:22px;background:#e1ecfd;"><span class="n">D</span></div>
<div class="c m" style="left:24px;top:2240px;width:38px;height:23px;line-height:22px;background:#000;color:#fff;"><span class="n">3</span></div>
<div class="c l" style="left:61px;top:2240px;width:114px;height:23px;line-height:22px;background:#fff;">小野次郎</div>
<div class="c l" style="left:174px;top:2240px;width:152px;height:23px;line-height:22px;background:#fff;"><span class="n">9-7-8-86</span></div>
<div class="c rr" style="left:325px;top:2240px;width:76px;height:23px;line-height:22px;background:#fbdfd1;"><span class="n">8.2%</span></div>
<div class="c rr" style="left:400px;top:2240px;width:77px;height:23px;line-height:22px;background:#fff;"><span class="n">14.5%</span></div>
<div class="c rr" style="left:476px;top:2240px;width:76px;height:23px;line-height:22px;background:#fff;"><span class="n">21.8%</span></div>
<div class="c m" style="left:551px;top:2240px;width:76px;height:23px;line-height:22px;background:#fff;"><span class="n">C</span></div>
<div class="c m" style="left:24px;top:2262px;width:38px;height:23px;line-height:22px;background:#000;color:#fff;"><span class="n">4</span></div>
<div class="c l" style="left:61px;top:2262px;width:114px;height:23px;line-height:22px;background:#e1ecfd;">秋本</div>
<div class="c l" style="left:174px;top:2262px;width:152px;height:23px;line-height:22px;background:#e1ecfd;"><span class="n">0-0-0-1</span></div>
<div class="c rr" style="left:325px;top:2262px;width:76px;height:23px;line-height:22px;background:#e1ecfd;"><span class="n">0.0%</span></div>
<div class="c rr" style="left:400px;top:2262px;width:77px;height:23px;line-height:22px;background:#e1ecfd;"><span class="n">0.0%</span></div>
<div class="c rr" style="left:476px;top:2262px;width:76px;height:23px;line-height:22px;background:#e1ecfd;"><span class="n">0.0%</span></div>
<div class="c m" style="left:551px;top:2262px;width:76px;height:23px;line-height:22px;background:#e1ecfd;"><span class="n">D</span></div>
<div class="c m" style="left:24px;top:2284px;width:38px;height:22px;line-height:21px;background:#ea4335;color:#fff;"><span class="n">5</span></div>
<div class="c l" style="left:61px;top:2284px;width:114px;height:22px;line-height:21px;background:#fff;">木村哲也</div>
<div class="c l" style="left:174px;top:2284px;width:152px;height:22px;line-height:21px;background:#fff;"><span class="n">6-1-1-26</span></div>
<div class="c rr" style="left:325px;top:2284px;width:76px;height:22px;line-height:21px;background:#fbdfd1;"><span class="n">17.6%</span></div>
<div class="c rr" style="left:400px;top:2284px;width:77px;height:22px;line-height:21px;background:#fff;"><span class="n">20.6%</span></div>
<div class="c rr" style="left:476px;top:2284px;width:76px;height:22px;line-height:21px;background:#fff;"><span class="n">23.5%</span></div>
<div class="c m" style="left:551px;top:2284px;width:76px;height:22px;line-height:21px;background:#fff;"><span class="n">C</span></div>
<div class="c m" style="left:24px;top:2305px;width:38px;height:23px;line-height:22px;background:#ea4335;color:#fff;"><span class="n">6</span></div>
<div class="c l" style="left:61px;top:2305px;width:114px;height:23px;line-height:22px;background:#e1ecfd;">水野貴広</div>
<div class="c l" style="left:174px;top:2305px;width:152px;height:23px;line-height:22px;background:#e1ecfd;"><span class="n">8-9-11-138</span></div>
<div class="c rr" style="left:325px;top:2305px;width:76px;height:23px;line-height:22px;background:#e1ecfd;"><span class="n">4.8%</span></div>
<div class="c rr" style="left:400px;top:2305px;width:77px;height:23px;line-height:22px;background:#e1ecfd;"><span class="n">10.2%</span></div>
<div class="c rr" style="left:476px;top:2305px;width:76px;height:23px;line-height:22px;background:#e1ecfd;"><span class="n">16.9%</span></div>
<div class="c m" style="left:551px;top:2305px;width:76px;height:23px;line-height:22px;background:#e1ecfd;"><span class="n">D</span></div>
<div class="c m" style="left:24px;top:2327px;width:38px;height:23px;line-height:22px;background:#4285f4;color:#fff;"><span class="n">7</span></div>
<div class="c l" style="left:61px;top:2327px;width:114px;height:23px;line-height:22px;background:#fff;">古賀慎明</div>
<div class="c l" style="left:174px;top:2327px;width:152px;height:23px;line-height:22px;background:#fff;"><span class="n">6-6-7-103</span></div>
<div class="c rr" style="left:325px;top:2327px;width:76px;height:23px;line-height:22px;background:#fff;"><span class="n">4.9%</span></div>
<div class="c rr" style="left:400px;top:2327px;width:77px;height:23px;line-height:22px;background:#fff;"><span class="n">9.8%</span></div>
<div class="c rr" style="left:476px;top:2327px;width:76px;height:23px;line-height:22px;background:#fff;"><span class="n">15.6%</span></div>
<div class="c m" style="left:551px;top:2327px;width:76px;height:23px;line-height:22px;background:#fff;"><span class="n">D</span></div>
<div class="c m" style="left:24px;top:2349px;width:38px;height:22px;line-height:21px;background:#4285f4;color:#fff;"><span class="n">8</span></div>
<div class="c l" style="left:61px;top:2349px;width:114px;height:22px;line-height:21px;background:#e1ecfd;">林徹</div>
<div class="c l" style="left:174px;top:2349px;width:152px;height:22px;line-height:21px;background:#e1ecfd;"><span class="n">11-6-16-88</span></div>
<div class="c rr" style="left:325px;top:2349px;width:76px;height:22px;line-height:21px;background:#e1ecfd;"><span class="n">9.1%</span></div>
<div class="c rr" style="left:400px;top:2349px;width:77px;height:22px;line-height:21px;background:#e1ecfd;"><span class="n">14.0%</span></div>
<div class="c rr" style="left:476px;top:2349px;width:76px;height:22px;line-height:21px;background:#e1ecfd;"><span class="n">27.3%</span></div>
<div class="c m" style="left:551px;top:2349px;width:76px;height:22px;line-height:21px;background:#e1ecfd;"><span class="n">D</span></div>
<div class="c m" style="left:24px;top:2370px;width:38px;height:23px;line-height:22px;background:#f3cc06;color:#222;"><span class="n">9</span></div>
<div class="c l" style="left:61px;top:2370px;width:114px;height:23px;line-height:22px;background:#fff;">高柳瑞樹</div>
<div class="c l" style="left:174px;top:2370px;width:152px;height:23px;line-height:22px;background:#fff;"><span class="n">4-8-8-69</span></div>
<div class="c rr" style="left:325px;top:2370px;width:76px;height:23px;line-height:22px;background:#fff;"><span class="n">4.5%</span></div>
<div class="c rr" style="left:400px;top:2370px;width:77px;height:23px;line-height:22px;background:#fff;"><span class="n">13.5%</span></div>
<div class="c rr" style="left:476px;top:2370px;width:76px;height:23px;line-height:22px;background:#fff;"><span class="n">22.5%</span></div>
<div class="c m" style="left:551px;top:2370px;width:76px;height:23px;line-height:22px;background:#fff;"><span class="n">D</span></div>
<div class="c m" style="left:24px;top:2392px;width:38px;height:23px;line-height:22px;background:#f3cc06;color:#222;"><span class="n">10</span></div>
<div class="c l" style="left:61px;top:2392px;width:114px;height:23px;line-height:22px;background:#e1ecfd;">上原博之</div>
<div class="c l" style="left:174px;top:2392px;width:152px;height:23px;line-height:22px;background:#e1ecfd;"><span class="n">5-8-12-80</span></div>
<div class="c rr" style="left:325px;top:2392px;width:76px;height:23px;line-height:22px;background:#e1ecfd;"><span class="n">4.8%</span></div>
<div class="c rr" style="left:400px;top:2392px;width:77px;height:23px;line-height:22px;background:#e1ecfd;"><span class="n">12.4%</span></div>
<div class="c rr" style="left:476px;top:2392px;width:76px;height:23px;line-height:22px;background:#e1ecfd;"><span class="n">23.8%</span></div>
<div class="c m" style="left:551px;top:2392px;width:76px;height:23px;line-height:22px;background:#e1ecfd;"><span class="n">D</span></div>
<div class="c m" style="left:24px;top:2414px;width:38px;height:23px;line-height:22px;background:#22ac38;color:#fff;"><span class="n">11</span></div>
<div class="c l" style="left:61px;top:2414px;width:114px;height:23px;line-height:22px;background:#fff;">西田雄一郎</div>
<div class="c l" style="left:174px;top:2414px;width:152px;height:23px;line-height:22px;background:#fff;"><span class="n">9-13-4-61</span></div>
<div class="c rr" style="left:325px;top:2414px;width:76px;height:23px;line-height:22px;background:#fff;"><span class="n">10.3%</span></div>
<div class="c rr" style="left:400px;top:2414px;width:77px;height:23px;line-height:22px;background:#fff;"><span class="n">25.3%</span></div>
<div class="c rr" style="left:476px;top:2414px;width:76px;height:23px;line-height:22px;background:#fff;"><span class="n">29.9%</span></div>
<div class="c m" style="left:551px;top:2414px;width:76px;height:23px;line-height:22px;background:#fff;"><span class="n">D</span></div>
<div class="c m" style="left:24px;top:2436px;width:38px;height:22px;line-height:21px;background:#22ac38;color:#fff;"><span class="n">12</span></div>
<div class="c l" style="left:61px;top:2436px;width:114px;height:22px;line-height:21px;background:#e1ecfd;">堀内岳志</div>
<div class="c l" style="left:174px;top:2436px;width:152px;height:22px;line-height:21px;background:#e1ecfd;"><span class="n">4-4-8-73</span></div>
<div class="c rr" style="left:325px;top:2436px;width:76px;height:22px;line-height:21px;background:#e1ecfd;"><span class="n">4.5%</span></div>
<div class="c rr" style="left:400px;top:2436px;width:77px;height:22px;line-height:21px;background:#e1ecfd;"><span class="n">9.0%</span></div>
<div class="c rr" style="left:476px;top:2436px;width:76px;height:22px;line-height:21px;background:#fbdfd1;"><span class="n">18.0%</span></div>
<div class="c m" style="left:551px;top:2436px;width:76px;height:22px;line-height:21px;background:#e1ecfd;"><span class="n">C</span></div>
<div class="c m" style="left:24px;top:2457px;width:38px;height:23px;line-height:22px;background:#e8961c;color:#fff;"><span class="n">13</span></div>
<div class="c l" style="left:61px;top:2457px;width:114px;height:23px;line-height:22px;background:#fff;">田村康仁</div>
<div class="c l" style="left:174px;top:2457px;width:152px;height:23px;line-height:22px;background:#fff;"><span class="n">22-18-7-142</span></div>
<div class="c rr" style="left:325px;top:2457px;width:76px;height:23px;line-height:22px;background:#fbdfd1;"><span class="n">11.6%</span></div>
<div class="c rr" style="left:400px;top:2457px;width:77px;height:23px;line-height:22px;background:#fff;"><span class="n">21.2%</span></div>
<div class="c rr" style="left:476px;top:2457px;width:76px;height:23px;line-height:22px;background:#fff;"><span class="n">24.9%</span></div>
<div class="c m" style="left:551px;top:2457px;width:76px;height:23px;line-height:22px;background:#fff;"><span class="n">C</span></div>
<div class="c m" style="left:24px;top:2479px;width:38px;height:23px;line-height:22px;background:#e8961c;color:#fff;"><span class="n">14</span></div>
<div class="c l" style="left:61px;top:2479px;width:114px;height:23px;line-height:22px;background:#e1ecfd;">尾形和幸</div>
<div class="c l" style="left:174px;top:2479px;width:152px;height:23px;line-height:22px;background:#e1ecfd;"><span class="n">3-4-2-87</span></div>
<div class="c rr" style="left:325px;top:2479px;width:76px;height:23px;line-height:22px;background:#e1ecfd;"><span class="n">3.1%</span></div>
<div class="c rr" style="left:400px;top:2479px;width:77px;height:23px;line-height:22px;background:#e1ecfd;"><span class="n">7.3%</span></div>
<div class="c rr" style="left:476px;top:2479px;width:76px;height:23px;line-height:22px;background:#e1ecfd;"><span class="n">9.4%</span></div>
<div class="c m" style="left:551px;top:2479px;width:76px;height:23px;line-height:22px;background:#e1ecfd;"><span class="n">E</span></div>
<div class="c m" style="left:24px;top:2501px;width:38px;height:23px;line-height:22px;background:#e24d94;color:#fff;"><span class="n">15</span></div>
<div class="c l" style="left:61px;top:2501px;width:114px;height:23px;line-height:22px;background:#fff;">金成貴史</div>
<div class="c l" style="left:174px;top:2501px;width:152px;height:23px;line-height:22px;background:#fff;"><span class="n">6-4-6-84</span></div>
<div class="c rr" style="left:325px;top:2501px;width:76px;height:23px;line-height:22px;background:#fff;"><span class="n">6.0%</span></div>
<div class="c rr" style="left:400px;top:2501px;width:77px;height:23px;line-height:22px;background:#fff;"><span class="n">10.0%</span></div>
<div class="c rr" style="left:476px;top:2501px;width:76px;height:23px;line-height:22px;background:#fff;"><span class="n">16.0%</span></div>
<div class="c m" style="left:551px;top:2501px;width:76px;height:23px;line-height:22px;background:#fff;"><span class="n">D</span></div>
<div class="c m" style="left:24px;top:2523px;width:38px;height:22px;line-height:21px;background:#e24d94;color:#fff;"><span class="n">16</span></div>
<div class="c l" style="left:61px;top:2523px;width:114px;height:22px;line-height:21px;background:#e1ecfd;">嘉藤貴行</div>
<div class="c l" style="left:174px;top:2523px;width:152px;height:22px;line-height:21px;background:#e1ecfd;"><span class="n">11-3-7-68</span></div>
<div class="c rr" style="left:325px;top:2523px;width:76px;height:22px;line-height:21px;background:#e1ecfd;"><span class="n">12.4%</span></div>
<div class="c rr" style="left:400px;top:2523px;width:77px;height:22px;line-height:21px;background:#e1ecfd;"><span class="n">15.7%</span></div>
<div class="c rr" style="left:476px;top:2523px;width:76px;height:22px;line-height:21px;background:#e1ecfd;"><span class="n">23.6%</span></div>
<div class="c m" style="left:551px;top:2523px;width:76px;height:22px;line-height:21px;background:#e1ecfd;"><span class="n">D</span></div>
</body></html>
